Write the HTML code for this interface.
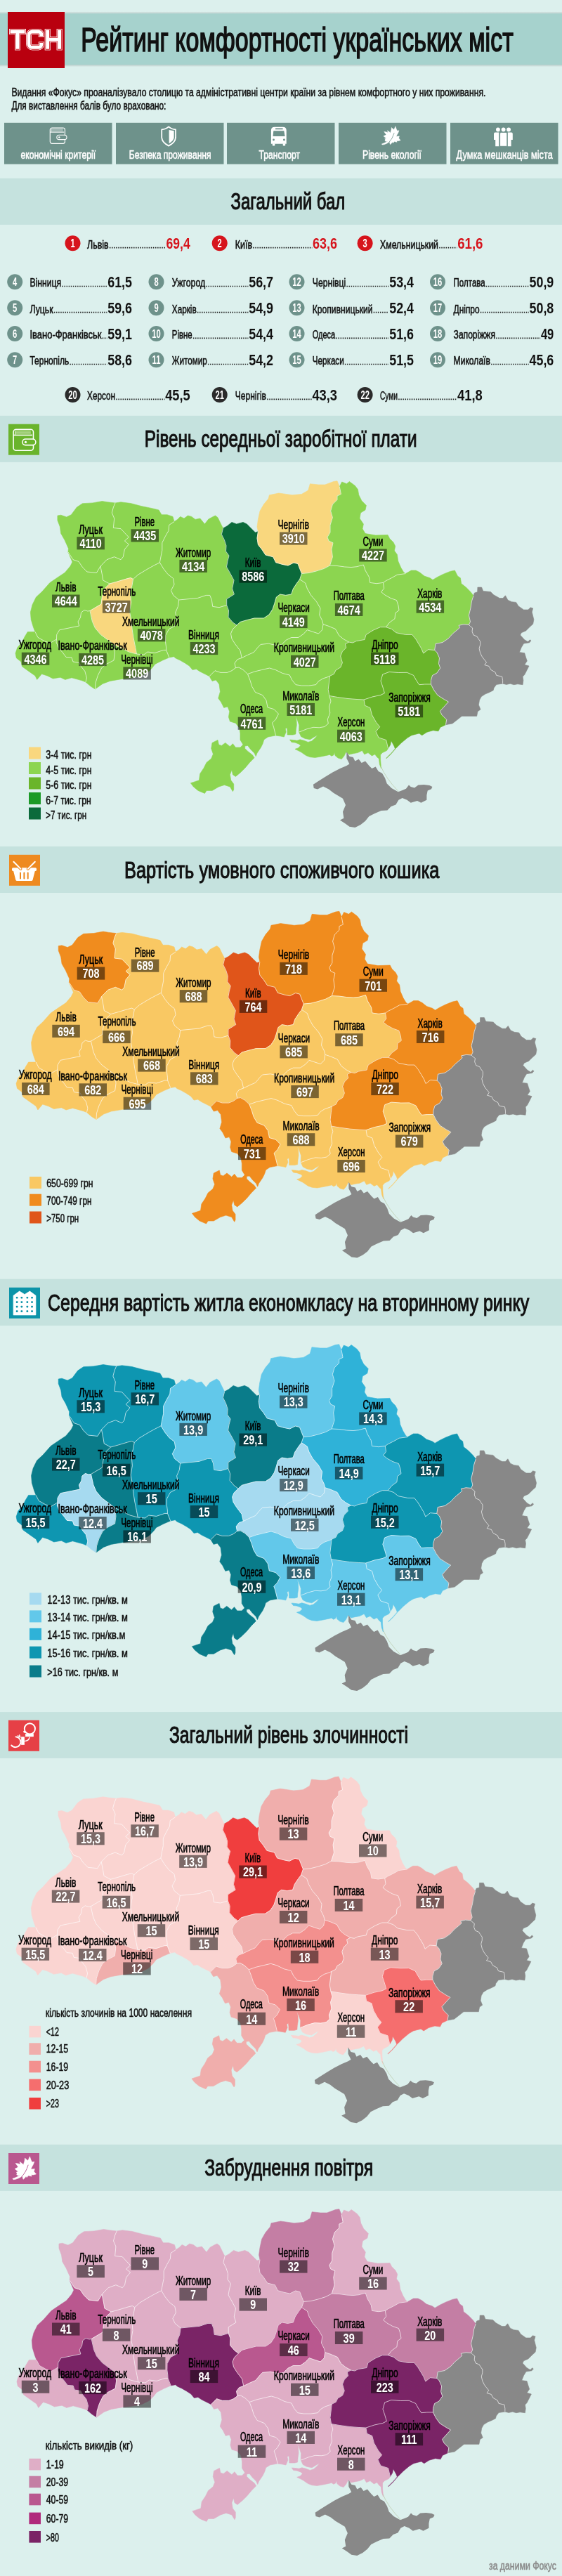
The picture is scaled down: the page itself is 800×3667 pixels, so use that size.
<!DOCTYPE html>
<html lang="uk"><head><meta charset="utf-8"><title>Рейтинг комфортності українських міст</title>
<style>
html,body{margin:0;padding:0;background:#dcf0ed}
svg{display:block}
text{font-family:"Liberation Sans",sans-serif}
</style></head><body>
<svg style="will-change:transform" width="800" height="3667" viewBox="0 0 800 3667">
<rect width="800" height="3667" fill="#dcf0ed"/>
<defs><linearGradient id="shu" x1="0" y1="0" x2="0" y2="1"><stop offset="0" stop-color="#000" stop-opacity="0"/><stop offset="1" stop-color="#000" stop-opacity="0.16"/></linearGradient><linearGradient id="shd" x1="0" y1="0" x2="0" y2="1"><stop offset="0" stop-color="#000" stop-opacity="0.16"/><stop offset="1" stop-color="#000" stop-opacity="0"/></linearGradient></defs>
<rect x="0" y="16.4" width="800" height="3" fill="url(#shu)"/><rect x="0" y="92" width="800" height="3.2" fill="url(#shd)"/>
<rect x="0" y="19.2" width="800" height="73" fill="#a6d2cd"/>
<rect x="11" y="17" width="81" height="80" fill="#b9000f"/>
<path d="M17,45.1 H33 M25,45.1 V67.4 M67.7,45.1 V67.4 M84.6,45.1 V67.4 M67.7,56.2 H84.6 M58.8,49.1 A4,4 0 0 0 54.8,45.1 H46 A5,5 0 0 0 41,50.1 V62.4 A5,5 0 0 0 46,67.4 H54.8 A4,4 0 0 0 58.8,63.4" fill="none" stroke="#fff" stroke-width="8" stroke-linecap="square" stroke-linejoin="round"/>
<path d="M17,45.1 H33 M25,45.1 V67.4 M67.7,45.1 V67.4 M84.6,45.1 V67.4 M67.7,56.2 H84.6 M58.8,49.1 A4,4 0 0 0 54.8,45.1 H46 A5,5 0 0 0 41,50.1 V62.4 A5,5 0 0 0 46,67.4 H54.8 A4,4 0 0 0 58.8,63.4" fill="none" stroke="#cc1a24" stroke-width="6.5" stroke-linecap="square" stroke-linejoin="round"/>
<path d="M17,45.1 H33 M25,45.1 V67.4 M67.7,45.1 V67.4 M84.6,45.1 V67.4 M67.7,56.2 H84.6 M58.8,49.1 A4,4 0 0 0 54.8,45.1 H46 A5,5 0 0 0 41,50.1 V62.4 A5,5 0 0 0 46,67.4 H54.8 A4,4 0 0 0 58.8,63.4" fill="none" stroke="#fff" stroke-width="4.9" stroke-linecap="square" stroke-linejoin="round"/>
<text x="115.2" y="72.6" font-size="47.5" fill="#111" stroke="#111" stroke-width="1.62" textLength="615.5" lengthAdjust="spacingAndGlyphs">Рейтинг комфортності українських міст</text>
<text x="16.4" y="137.3" font-size="16.4" fill="#111" stroke="#111" stroke-width="0.56" textLength="675.0" lengthAdjust="spacingAndGlyphs">Видання «Фокус» проаналізувало столицю та адміністративні центри країни за рівнем комфортного у них проживання.</text>
<text x="16.4" y="155.9" font-size="16.4" fill="#111" stroke="#111" stroke-width="0.56" textLength="220.0" lengthAdjust="spacingAndGlyphs">Для виставлення балів було враховано:</text>
<rect x="6" y="174.8" width="153.5" height="58.9" fill="#6e928b"/>
<text x="29.4" y="225.5" font-size="16.8" fill="#fff" stroke="#fff" stroke-width="0.57" textLength="106.8" lengthAdjust="spacingAndGlyphs">економічні критерії</text>
<rect x="165" y="174.8" width="153.5" height="58.9" fill="#6e928b"/>
<text x="183.8" y="225.5" font-size="16.8" fill="#fff" stroke="#fff" stroke-width="0.57" textLength="116.8" lengthAdjust="spacingAndGlyphs">Безпека проживання</text>
<rect x="323" y="174.8" width="153.5" height="58.9" fill="#6e928b"/>
<text x="368.5" y="225.5" font-size="16.8" fill="#fff" stroke="#fff" stroke-width="0.57" textLength="58.5" lengthAdjust="spacingAndGlyphs">Транспорт</text>
<rect x="482" y="174.8" width="153.5" height="58.9" fill="#6e928b"/>
<text x="516.0" y="225.5" font-size="16.8" fill="#fff" stroke="#fff" stroke-width="0.57" textLength="84.0" lengthAdjust="spacingAndGlyphs">Рівень екології</text>
<rect x="641" y="174.8" width="153.5" height="58.9" fill="#6e928b"/>
<text x="649.6" y="225.5" font-size="16.8" fill="#fff" stroke="#fff" stroke-width="0.57" textLength="137.1" lengthAdjust="spacingAndGlyphs">Думка мешканців міста</text>
<g transform="translate(70.7,181.4) scale(0.745)" fill="none" stroke="#fff" stroke-width="1.55" stroke-linejoin="round"><rect x="0.8" y="0.8" width="28.4" height="30" rx="3.8"/><path d="M0.8,9 H27.6"/><path d="M3.2,8.6 V3.2 M3.2,2.8 H25.5 M3.2,4.7 H25.5 M3.2,6.6 H25.5" stroke-width="0.7"/><rect x="13.6" y="14.6" width="19" height="8.6" rx="4.3" fill="#6e928b"/><circle cx="18.2" cy="18.9" r="1.6" fill="#fff" stroke="none"/></g>
<g transform="translate(229.2,179.4) scale(1)"><path d="M10.9,1 Q6.5,5 1,4.9 V16.5 Q1.6,23.5 10.9,28.2 Q20.2,23.5 20.8,16.5 V4.9 Q15.3,5 10.9,1 Z" fill="none" stroke="#fff" stroke-width="1.75" stroke-linejoin="round"/><path d="M11.4,5.6 L18.4,6.9 V16.6 Q17.8,21.3 11.4,24.8 Z" fill="#fff"/></g>
<g transform="translate(385.9,180.8) scale(1)"><path d="M0,23.9 V5 Q0,0 5,0 H16.8 Q21.8,0 21.8,5 V23.9 Z" fill="#fff"/><rect x="1.9" y="23.5" width="3.5" height="3.3" rx="0.8" fill="#fff"/><rect x="16.8" y="23.5" width="3.5" height="3.3" rx="0.8" fill="#fff"/><path d="M3.4,5.4 H18.4 L19.7,13.2 H2.6 Z" fill="#6e928b"/><rect x="6.1" y="1.8" width="10.7" height="1.7" rx="0.5" fill="#6e928b"/><circle cx="3.6" cy="18.2" r="1.45" fill="#6e928b"/><circle cx="18.5" cy="18.2" r="1.45" fill="#6e928b"/></g>
<g transform="translate(538.6,175.9) scale(0.8)"><polygon points="30.43,4.80 32.03,9.61 33.63,12.81 36.83,12.28 35.23,16.55 33.09,20.28 32.03,22.95 37.37,22.42 36.30,26.16 39.50,29.89 35.23,30.96 32.56,30.64 33.09,33.09 28.29,32.03 26.16,34.70 25.09,33.09 22.95,35.76 21.03,37.37 20.28,34.70 19.75,32.56 18.15,33.63 14.41,35.76 10.14,37.37 6.94,37.69 5.87,36.30 9.07,35.23 13.88,33.09 17.08,30.96 14.41,32.03 11.74,30.96 12.28,28.29 11.21,27.22 13.88,26.16 9.07,22.42 12.28,20.82 13.88,19.75 10.14,14.41 13.88,14.95 17.08,16.01 16.01,12.28 19.75,14.95 21.35,16.55 22.95,11.21 23.49,6.94 26.16,9.61 27.76,10.68" fill="#fff" stroke="#fff" stroke-width="0.5" stroke-linejoin="round"/><path d="M28.08,17.08 Q25.09,27.22 19.00,33.42" fill="none" stroke="#6e928b" stroke-width="0.95" stroke-linecap="round"/></g>
<g transform="translate(703,181.6) scale(1)" fill="#fff"><circle cx="5.9" cy="2.9" r="2.9"/><circle cx="13.6" cy="2.9" r="2.9"/><circle cx="21.1" cy="2.9" r="2.9"/><path d="M0,8.8 Q0,7 1.8,7 H7.2 V26.7 H2.2 V17.5 H0 Z"/><path d="M26.8,8.8 Q26.8,7 25,7 H19.8 V26.7 H24.6 V17.5 H26.8 Z"/><path d="M8.6,8.6 Q8.6,6.8 10.4,6.8 H17 Q18.8,6.8 18.8,8.6 V26.7 H8.6 Z" stroke="#6e928b" stroke-width="0.9"/></g>
<rect x="0" y="253.9" width="800" height="66" fill="#c5e2de"/>
<text x="328.5" y="298.4" font-size="33.3" fill="#111" stroke="#111" stroke-width="1.13" textLength="162.8" lengthAdjust="spacingAndGlyphs">Загальний бал</text>
<circle cx="103.5" cy="346.3" r="11" fill="#d6141c"/>
<text x="100.4" y="352.4" font-size="17" font-weight="bold" fill="#fff" textLength="6.2" lengthAdjust="spacingAndGlyphs">1</text>
<text x="124.1" y="353.5" font-size="17" fill="#111" stroke="#111" stroke-width="0.58" textLength="30.6" lengthAdjust="spacingAndGlyphs">Львів</text>
<line x1="155.9" y1="352.6" x2="235.8" y2="352.6" stroke="#1a1a1a" stroke-width="1.7" stroke-dasharray="1.5 1.6"/>
<text x="236.6" y="353.8" font-size="22.8" font-weight="bold" fill="#d6141c" textLength="34.1" lengthAdjust="spacingAndGlyphs">69,4</text>
<circle cx="312.7" cy="346.3" r="11" fill="#d6141c"/>
<text x="309.6" y="352.4" font-size="17" font-weight="bold" fill="#fff" textLength="6.2" lengthAdjust="spacingAndGlyphs">2</text>
<text x="334.8" y="353.5" font-size="17" fill="#111" stroke="#111" stroke-width="0.58" textLength="24.2" lengthAdjust="spacingAndGlyphs">Київ</text>
<line x1="360.2" y1="352.6" x2="444.3" y2="352.6" stroke="#1a1a1a" stroke-width="1.7" stroke-dasharray="1.5 1.6"/>
<text x="445.1" y="353.8" font-size="22.8" font-weight="bold" fill="#d6141c" textLength="34.9" lengthAdjust="spacingAndGlyphs">63,6</text>
<circle cx="519.6" cy="346.3" r="11" fill="#d6141c"/>
<text x="516.5" y="352.4" font-size="17" font-weight="bold" fill="#fff" textLength="6.2" lengthAdjust="spacingAndGlyphs">3</text>
<text x="541.0" y="353.5" font-size="17" fill="#111" stroke="#111" stroke-width="0.58" textLength="83.0" lengthAdjust="spacingAndGlyphs">Хмельницький</text>
<line x1="625.2" y1="352.6" x2="650.4" y2="352.6" stroke="#1a1a1a" stroke-width="1.7" stroke-dasharray="1.5 1.6"/>
<text x="651.2" y="353.8" font-size="22.8" font-weight="bold" fill="#d6141c" textLength="36.3" lengthAdjust="spacingAndGlyphs">61,6</text>
<circle cx="21.2" cy="401.2" r="11" fill="#6e928b"/>
<text x="18.1" y="407.3" font-size="17" font-weight="bold" fill="#fff" textLength="6.2" lengthAdjust="spacingAndGlyphs">4</text>
<text x="42.4" y="408.4" font-size="17" fill="#111" stroke="#111" stroke-width="0.58" textLength="44.8" lengthAdjust="spacingAndGlyphs">Вінниця</text>
<line x1="88.4" y1="407.5" x2="152.4" y2="407.5" stroke="#1a1a1a" stroke-width="1.7" stroke-dasharray="1.5 1.6"/>
<text x="153.2" y="408.7" font-size="22.8" font-weight="bold" fill="#111" textLength="34.8" lengthAdjust="spacingAndGlyphs">61,5</text>
<circle cx="21.2" cy="438.3" r="11" fill="#6e928b"/>
<text x="18.1" y="444.4" font-size="17" font-weight="bold" fill="#fff" textLength="6.2" lengthAdjust="spacingAndGlyphs">5</text>
<text x="42.4" y="445.5" font-size="17" fill="#111" stroke="#111" stroke-width="0.58" textLength="33.3" lengthAdjust="spacingAndGlyphs">Луцьк</text>
<line x1="76.9" y1="444.6" x2="152.4" y2="444.6" stroke="#1a1a1a" stroke-width="1.7" stroke-dasharray="1.5 1.6"/>
<text x="153.2" y="445.8" font-size="22.8" font-weight="bold" fill="#111" textLength="34.8" lengthAdjust="spacingAndGlyphs">59,6</text>
<circle cx="21.2" cy="475.0" r="11" fill="#6e928b"/>
<text x="18.1" y="481.1" font-size="17" font-weight="bold" fill="#fff" textLength="6.2" lengthAdjust="spacingAndGlyphs">6</text>
<text x="42.4" y="482.2" font-size="17" fill="#111" stroke="#111" stroke-width="0.58" textLength="102.1" lengthAdjust="spacingAndGlyphs">Івано-Франківськ</text>
<line x1="145.7" y1="481.3" x2="152.4" y2="481.3" stroke="#1a1a1a" stroke-width="1.7" stroke-dasharray="1.5 1.6"/>
<text x="153.2" y="482.5" font-size="22.8" font-weight="bold" fill="#111" textLength="34.8" lengthAdjust="spacingAndGlyphs">59,1</text>
<circle cx="21.2" cy="512.2" r="11" fill="#6e928b"/>
<text x="18.1" y="518.3" font-size="17" font-weight="bold" fill="#fff" textLength="6.2" lengthAdjust="spacingAndGlyphs">7</text>
<text x="42.4" y="519.4" font-size="17" fill="#111" stroke="#111" stroke-width="0.58" textLength="55.8" lengthAdjust="spacingAndGlyphs">Тернопіль</text>
<line x1="99.4" y1="518.5" x2="152.4" y2="518.5" stroke="#1a1a1a" stroke-width="1.7" stroke-dasharray="1.5 1.6"/>
<text x="153.2" y="519.7" font-size="22.8" font-weight="bold" fill="#111" textLength="34.8" lengthAdjust="spacingAndGlyphs">58,6</text>
<circle cx="222.5" cy="401.2" r="11" fill="#6e928b"/>
<text x="219.4" y="407.3" font-size="17" font-weight="bold" fill="#fff" textLength="6.2" lengthAdjust="spacingAndGlyphs">8</text>
<text x="244.8" y="408.4" font-size="17" fill="#111" stroke="#111" stroke-width="0.58" textLength="47.4" lengthAdjust="spacingAndGlyphs">Ужгород</text>
<line x1="293.4" y1="407.5" x2="353.4" y2="407.5" stroke="#1a1a1a" stroke-width="1.7" stroke-dasharray="1.5 1.6"/>
<text x="354.2" y="408.7" font-size="22.8" font-weight="bold" fill="#111" textLength="34.8" lengthAdjust="spacingAndGlyphs">56,7</text>
<circle cx="222.5" cy="438.3" r="11" fill="#6e928b"/>
<text x="219.4" y="444.4" font-size="17" font-weight="bold" fill="#fff" textLength="6.2" lengthAdjust="spacingAndGlyphs">9</text>
<text x="244.8" y="445.5" font-size="17" fill="#111" stroke="#111" stroke-width="0.58" textLength="34.9" lengthAdjust="spacingAndGlyphs">Харків</text>
<line x1="280.9" y1="444.6" x2="353.4" y2="444.6" stroke="#1a1a1a" stroke-width="1.7" stroke-dasharray="1.5 1.6"/>
<text x="354.2" y="445.8" font-size="22.8" font-weight="bold" fill="#111" textLength="34.8" lengthAdjust="spacingAndGlyphs">54,9</text>
<circle cx="222.5" cy="475.0" r="11" fill="#6e928b"/>
<text x="216.3" y="481.1" font-size="17" font-weight="bold" fill="#fff" textLength="12.5" lengthAdjust="spacingAndGlyphs">10</text>
<text x="244.8" y="482.2" font-size="17" fill="#111" stroke="#111" stroke-width="0.58" textLength="28.9" lengthAdjust="spacingAndGlyphs">Рівне</text>
<line x1="274.9" y1="481.3" x2="353.4" y2="481.3" stroke="#1a1a1a" stroke-width="1.7" stroke-dasharray="1.5 1.6"/>
<text x="354.2" y="482.5" font-size="22.8" font-weight="bold" fill="#111" textLength="34.8" lengthAdjust="spacingAndGlyphs">54,4</text>
<circle cx="222.5" cy="512.2" r="11" fill="#6e928b"/>
<text x="216.6" y="518.3" font-size="17" font-weight="bold" fill="#fff" textLength="11.9" lengthAdjust="spacingAndGlyphs">11</text>
<text x="244.8" y="519.4" font-size="17" fill="#111" stroke="#111" stroke-width="0.58" textLength="49.9" lengthAdjust="spacingAndGlyphs">Житомир</text>
<line x1="295.9" y1="518.5" x2="353.4" y2="518.5" stroke="#1a1a1a" stroke-width="1.7" stroke-dasharray="1.5 1.6"/>
<text x="354.2" y="519.7" font-size="22.8" font-weight="bold" fill="#111" textLength="34.8" lengthAdjust="spacingAndGlyphs">54,2</text>
<circle cx="422.5" cy="401.2" r="11" fill="#6e928b"/>
<text x="416.3" y="407.3" font-size="17" font-weight="bold" fill="#fff" textLength="12.5" lengthAdjust="spacingAndGlyphs">12</text>
<text x="444.8" y="408.4" font-size="17" fill="#111" stroke="#111" stroke-width="0.58" textLength="47.4" lengthAdjust="spacingAndGlyphs">Чернівці</text>
<line x1="493.4" y1="407.5" x2="553.4" y2="407.5" stroke="#1a1a1a" stroke-width="1.7" stroke-dasharray="1.5 1.6"/>
<text x="554.2" y="408.7" font-size="22.8" font-weight="bold" fill="#111" textLength="34.8" lengthAdjust="spacingAndGlyphs">53,4</text>
<circle cx="422.5" cy="438.3" r="11" fill="#6e928b"/>
<text x="416.3" y="444.4" font-size="17" font-weight="bold" fill="#fff" textLength="12.5" lengthAdjust="spacingAndGlyphs">13</text>
<text x="444.8" y="445.5" font-size="17" fill="#111" stroke="#111" stroke-width="0.58" textLength="85.7" lengthAdjust="spacingAndGlyphs">Кропивницький</text>
<line x1="531.7" y1="444.6" x2="553.4" y2="444.6" stroke="#1a1a1a" stroke-width="1.7" stroke-dasharray="1.5 1.6"/>
<text x="554.2" y="445.8" font-size="22.8" font-weight="bold" fill="#111" textLength="34.8" lengthAdjust="spacingAndGlyphs">52,4</text>
<circle cx="422.5" cy="475.0" r="11" fill="#6e928b"/>
<text x="416.3" y="481.1" font-size="17" font-weight="bold" fill="#fff" textLength="12.5" lengthAdjust="spacingAndGlyphs">14</text>
<text x="444.8" y="482.2" font-size="17" fill="#111" stroke="#111" stroke-width="0.58" textLength="32.4" lengthAdjust="spacingAndGlyphs">Одеса</text>
<line x1="478.4" y1="481.3" x2="553.4" y2="481.3" stroke="#1a1a1a" stroke-width="1.7" stroke-dasharray="1.5 1.6"/>
<text x="554.2" y="482.5" font-size="22.8" font-weight="bold" fill="#111" textLength="34.8" lengthAdjust="spacingAndGlyphs">51,6</text>
<circle cx="422.5" cy="512.2" r="11" fill="#6e928b"/>
<text x="416.3" y="518.3" font-size="17" font-weight="bold" fill="#fff" textLength="12.5" lengthAdjust="spacingAndGlyphs">15</text>
<text x="444.8" y="519.4" font-size="17" fill="#111" stroke="#111" stroke-width="0.58" textLength="44.9" lengthAdjust="spacingAndGlyphs">Черкаси</text>
<line x1="490.9" y1="518.5" x2="553.4" y2="518.5" stroke="#1a1a1a" stroke-width="1.7" stroke-dasharray="1.5 1.6"/>
<text x="554.2" y="519.7" font-size="22.8" font-weight="bold" fill="#111" textLength="34.8" lengthAdjust="spacingAndGlyphs">51,5</text>
<circle cx="623.0" cy="401.2" r="11" fill="#6e928b"/>
<text x="616.8" y="407.3" font-size="17" font-weight="bold" fill="#fff" textLength="12.5" lengthAdjust="spacingAndGlyphs">16</text>
<text x="645.6" y="408.4" font-size="17" fill="#111" stroke="#111" stroke-width="0.58" textLength="45.1" lengthAdjust="spacingAndGlyphs">Полтава</text>
<line x1="691.9" y1="407.5" x2="752.7" y2="407.5" stroke="#1a1a1a" stroke-width="1.7" stroke-dasharray="1.5 1.6"/>
<text x="753.5" y="408.7" font-size="22.8" font-weight="bold" fill="#111" textLength="34.8" lengthAdjust="spacingAndGlyphs">50,9</text>
<circle cx="623.0" cy="438.3" r="11" fill="#6e928b"/>
<text x="616.8" y="444.4" font-size="17" font-weight="bold" fill="#fff" textLength="12.5" lengthAdjust="spacingAndGlyphs">17</text>
<text x="645.6" y="445.5" font-size="17" fill="#111" stroke="#111" stroke-width="0.58" textLength="37.0" lengthAdjust="spacingAndGlyphs">Дніпро</text>
<line x1="683.8" y1="444.6" x2="752.7" y2="444.6" stroke="#1a1a1a" stroke-width="1.7" stroke-dasharray="1.5 1.6"/>
<text x="753.5" y="445.8" font-size="22.8" font-weight="bold" fill="#111" textLength="34.8" lengthAdjust="spacingAndGlyphs">50,8</text>
<circle cx="623.0" cy="475.0" r="11" fill="#6e928b"/>
<text x="616.8" y="481.1" font-size="17" font-weight="bold" fill="#fff" textLength="12.5" lengthAdjust="spacingAndGlyphs">18</text>
<text x="645.6" y="482.2" font-size="17" fill="#111" stroke="#111" stroke-width="0.58" textLength="59.4" lengthAdjust="spacingAndGlyphs">Запоріжжя</text>
<line x1="706.2" y1="481.3" x2="769.1" y2="481.3" stroke="#1a1a1a" stroke-width="1.7" stroke-dasharray="1.5 1.6"/>
<text x="769.9" y="482.5" font-size="22.8" font-weight="bold" fill="#111" textLength="18.4" lengthAdjust="spacingAndGlyphs">49</text>
<circle cx="623.0" cy="512.2" r="11" fill="#6e928b"/>
<text x="616.8" y="518.3" font-size="17" font-weight="bold" fill="#fff" textLength="12.5" lengthAdjust="spacingAndGlyphs">19</text>
<text x="645.6" y="519.4" font-size="17" fill="#111" stroke="#111" stroke-width="0.58" textLength="52.3" lengthAdjust="spacingAndGlyphs">Миколаїв</text>
<line x1="699.1" y1="518.5" x2="752.7" y2="518.5" stroke="#1a1a1a" stroke-width="1.7" stroke-dasharray="1.5 1.6"/>
<text x="753.5" y="519.7" font-size="22.8" font-weight="bold" fill="#111" textLength="34.8" lengthAdjust="spacingAndGlyphs">45,6</text>
<circle cx="103.5" cy="562.0" r="11" fill="#2b2b2b"/>
<text x="97.3" y="568.1" font-size="17" font-weight="bold" fill="#fff" textLength="12.5" lengthAdjust="spacingAndGlyphs">20</text>
<text x="124.1" y="569.2" font-size="17" fill="#111" stroke="#111" stroke-width="0.58" textLength="40.0" lengthAdjust="spacingAndGlyphs">Херсон</text>
<line x1="165.3" y1="568.3" x2="234.4" y2="568.3" stroke="#1a1a1a" stroke-width="1.7" stroke-dasharray="1.5 1.6"/>
<text x="235.2" y="569.5" font-size="22.8" font-weight="bold" fill="#111" textLength="35.5" lengthAdjust="spacingAndGlyphs">45,5</text>
<circle cx="312.7" cy="562.0" r="11" fill="#2b2b2b"/>
<text x="306.5" y="568.1" font-size="17" font-weight="bold" fill="#fff" textLength="12.5" lengthAdjust="spacingAndGlyphs">21</text>
<text x="334.8" y="569.2" font-size="17" fill="#111" stroke="#111" stroke-width="0.58" textLength="44.2" lengthAdjust="spacingAndGlyphs">Чернігів</text>
<line x1="380.2" y1="568.3" x2="443.6" y2="568.3" stroke="#1a1a1a" stroke-width="1.7" stroke-dasharray="1.5 1.6"/>
<text x="444.4" y="569.5" font-size="22.8" font-weight="bold" fill="#111" textLength="35.6" lengthAdjust="spacingAndGlyphs">43,3</text>
<circle cx="519.6" cy="562.0" r="11" fill="#2b2b2b"/>
<text x="513.4" y="568.1" font-size="17" font-weight="bold" fill="#fff" textLength="12.5" lengthAdjust="spacingAndGlyphs">22</text>
<text x="541.0" y="569.2" font-size="17" fill="#111" stroke="#111" stroke-width="0.58" textLength="25.0" lengthAdjust="spacingAndGlyphs">Суми</text>
<line x1="567.2" y1="568.3" x2="650.2" y2="568.3" stroke="#1a1a1a" stroke-width="1.7" stroke-dasharray="1.5 1.6"/>
<text x="651.0" y="569.5" font-size="22.8" font-weight="bold" fill="#111" textLength="35.8" lengthAdjust="spacingAndGlyphs">41,8</text>
<defs>
<path id="r-zak" d="M50,899.4 54,907.4 63.4,912.7 71.4,915.4 80.5,910 80,914 83.4,922 90,930 94,935.4 102,936 104,942 112.7,943.4 115.4,948.7 120.8,955.4 123.4,964.8 122,971 116.7,968.8 102,964.8 92.7,967.4 86,964.2 75.4,966 67.4,962 59.4,959.4 52.7,967.4 50,962 40.7,955.4 31.4,948.7 30,942 23.3,936.7 22,930 24.7,922 31.4,914 35.4,906 39.4,899.4Z"/>
<path id="r-lviv" d="M97,786 104,796.7 112,799.4 117.4,807.4 124,814 137.4,815.4 143,806 145.4,818 146.7,826 156,831 149.4,837.4 145.4,849.4 144,860 128,869.5 124.8,870 120,868.5 115.5,872 114.5,879 111,885 112.7,891 98,894 84.7,896.7 80.7,903.4 80.5,910 71.4,915.4 63.4,912.7 54,907.4 50,899.4 47.4,892.7 44.2,882 43.4,871.4 46,861 51.4,850 60,842 71,829.5 82,822 92.5,815 100,806 103,800 100,793Z"/>
<path id="r-volyn" d="M97,786 97.4,780.7 92,768.7 86.7,759.4 85.4,750 81.9,740.7 81.9,734 86.7,733.2 94.7,736 101.4,732.7 109.4,722 117.4,716.7 132,715.9 145.4,713.5 153.4,714.8 164,716 161.4,722 159.3,730 162.7,738 161.4,751.4 172,752.7 178.8,760 183.3,764.7 177.4,770 183.3,774.9 177.4,782 175.3,792.7 172,796.7 162.7,792.7 152,796.7 143,806 137.4,815.4 124,814 117.4,807.4 112,799.4 104,796.7Z"/>
<path id="r-rivne" d="M164,716 172,714.8 186,716.5 202,720.7 215.4,723.4 226,726 230,732.7 238,732.7 246,735.4 248,742.5 240.7,747.4 240,755.4 235.4,763.4 230.8,772.7 230.8,783.4 229.2,791.4 227.4,800.8 219.4,804.8 210,810 196.7,818 189.5,824.5 186,822.5 180,824 166.7,828 156,831 146.7,826 145.4,818 143,806 152,796.7 162.7,792.7 172,796.7 175.3,792.7 177.4,782 183.3,774.9 177.4,770 183.3,764.7 178.8,760 172,752.7 161.4,751.4 162.7,738 159.3,730 161.4,722Z"/>
<path id="r-tern" d="M156,831 166.7,828 180,824 186,822.5 189.5,824.5 188,833.4 185.4,842.7 186.7,857.4 184.5,870.7 187,884 188,895 190,908 192.7,921.4 194.5,931 183.4,928 172.7,922.7 162,917.4 154,911.4 143.4,903.4 135.4,894 131.4,884.7 128,869.5 144,860 145.4,849.4 149.4,837.4Z"/>
<path id="r-if" d="M80.5,910 80.7,903.4 84.7,896.7 98,894 112.7,891 111,885 114.5,879 115.5,872 120,868.5 124.8,870 128,869.5 131.4,884.7 135.4,894 143.4,903.4 154,911.4 162,917.4 163.4,929.4 162,940 151.4,945.4 144.7,950.7 139.4,961.4 136,972 135.4,981 128.8,976.8 122,971 123.4,964.8 120.8,955.4 115.4,948.7 112.7,943.4 104,942 102,936 94,935.4 90,930 83.4,922 80,914Z"/>
<path id="r-chrv" d="M162,917.4 172.7,922.7 183.4,928 194.5,931 204.7,932 210,928 220.7,929.4 232.7,925.4 236.7,925.4 240.8,936 231.4,940 220.7,945.4 216.7,950.7 210,957.4 199.4,962.7 183.4,965.4 172.7,966.7 156.7,969.4 146,973.4 135.4,981 136,972 139.4,961.4 144.7,950.7 151.4,945.4 162,940 163.4,929.4Z"/>
<path id="r-khm" d="M189.5,824.5 196.7,818 210,810 219.4,804.8 227.4,800.8 233,810 239,817.5 246.5,823.4 248,832 243.5,840.5 246.7,847.4 254.7,854 253.4,863.4 249.7,872 251.5,881 249,891 240.5,895.5 235.7,904.5 235.5,913.4 236.5,921 236.7,925.4 232.7,925.4 220.7,929.4 210,928 204.7,932 194.5,931 192.7,921.4 190,908 188,895 187,884 184.5,870.7 186.7,857.4 185.4,842.7 188,833.4Z"/>
<path id="r-zhy" d="M248,742.5 252.7,739.4 256.7,735.4 262,738 267.4,734 272.7,735.4 278,739.4 284.8,738 291.4,746 296.8,739 303.4,735.4 306.5,734 310,736.7 314,745 317.5,752 315.4,760.7 319.4,768.7 322,776.8 321.5,784.8 326,791 324,798.5 322.5,807 327,815 333,826 330.7,838 333.4,846 322.7,852.7 322.7,861.5 312,864.7 302.7,863.4 301.4,854 298.7,847.4 293.4,847.4 281.4,851.4 268,852.7 254.7,854 246.7,847.4 243.5,840.5 248,832 246.5,823.4 239,817.5 233,810 227.4,800.8 229.2,791.4 230.8,783.4 230.8,772.7 235.4,763.4 240,755.4 240.7,747.4Z"/>
<path id="r-vin" d="M254.7,854 268,852.7 281.4,851.4 293.4,847.4 298.7,847.4 301.4,854 302.7,863.4 312,864.7 322.7,861.5 325.5,869 325,878.5 331.4,886 337,890 331,896 328.5,902 330,909.4 334.5,916.5 342,926.5 344.2,936.5 338,938.7 334,944 335.4,950.7 330,954.7 323.4,957.4 314,957.4 306,954.7 298,962.7 292.7,960 284.7,956 279.4,952.5 274,953.5 269.5,948 263.4,944 256.5,940 250,937 247.4,934.7 240.8,936 236.7,925.4 236.5,921 235.5,913.4 235.7,904.5 240.5,895.5 249,891 251.5,881 249.7,872 253.4,863.4Z"/>
<path id="r-kyiv" d="M317.5,752 323.4,748.7 330,743.4 336.7,746 346,743.4 351.4,746 358,752.7 363.4,758 367.4,756.7 366,766 367.4,775.4 372.7,782 378,790 388.7,792.7 392.7,800.7 402,803.4 410,805 418,801 424,802.5 426.5,809 429.5,816.5 426.7,824.7 422.7,830 417.4,838 414.7,846 406.7,847.4 398.7,846 393.4,850 390.7,859.4 388,867.4 383,875 375.4,880 362,880 351.4,882.7 342,885.4 337,890 331.4,886 325,878.5 325.5,869 322.7,861.5 322.7,852.7 333.4,846 330.7,838 333,826 327,815 322.5,807 324,798.5 326,791 321.5,784.8 322,776.8 319.4,768.7 315.4,760.7Z"/>
<path id="r-chrh" d="M367.4,756.7 366,750 367.4,739.4 370,727.4 375.4,718 382,710 383.4,704.7 396.8,702 407.4,703.4 416,704.7 429.4,703.4 438.7,698 441.4,688.7 453.4,690 462.7,690 474.7,685.5 480,684.7 483.3,692.7 485.4,703.4 480,706 480,711.4 473.4,718 470.7,727.4 473.4,736.7 470,747.4 470,758 466,764.7 468,770 474,772.7 472,782 473.4,792.8 469.5,805 461,809.5 450,813 440,815.5 429.5,816.5 426.5,809 424,802.5 418,801 410,805 402,803.4 392.7,800.7 388.7,792.7 378,790 372.7,782 367.4,775.4 366,766Z"/>
<path id="r-sumy" d="M483.3,692.7 486.7,686 493.4,688.7 497.4,685.5 505.4,691.4 509.4,696.7 510.8,704.7 514.8,712.7 521.4,719.4 520,726 513.4,730 512,738 517.4,746 516,752.7 520,759.5 534.7,762 552,761.4 554.7,766.7 560,772 562.7,777.4 561.4,784 565.4,789.4 566.7,798.7 570.7,808 574.7,814.7 577.4,816.6 565.4,818.2 557.4,822.7 549.4,826.7 545.4,829.4 536,830.7 526.7,829.4 525.4,821.4 520,812 517.4,804 508,806.7 500,807.5 490.7,807 480,805.5 469.5,805 473.4,792.8 472,782 474,772.7 468,770 466,764.7 470,758 470,747.4 473.4,736.7 470.7,727.4 473.4,718 480,711.4 480,706 485.4,703.4Z"/>
<path id="r-polt" d="M429.5,816.5 440,815.5 450,813 461,809.5 469.5,805 480,805.5 490.7,807 500,807.5 508,806.7 517.4,804 520,812 525.4,821.4 526.7,829.4 536,830.7 545.4,829.4 546.7,837.4 542.7,842.7 548,847 556,851.5 564.5,854.5 567,862 568,868.7 562.7,872.7 562,880.7 554.7,886 549.4,892.7 541.4,892.7 532,896.7 525.4,900.7 521,903.5 519,910.5 507.4,912.5 502,915 496.7,914 489.4,910 482.7,904.7 477.4,895.4 468,891.4 460,888.7 458.7,883.4 454.7,875.4 456,866 450.7,856.7 442.7,847.4 437.4,838 434.7,830 426.7,824.7Z"/>
<path id="r-chrk" d="M426.7,824.7 434.7,830 437.4,838 442.7,847.4 450.7,856.7 456,866 454.7,875.4 458.7,883.4 460,888.7 458.7,896.7 453.4,902 445.4,899.4 437.4,896.7 432,902.5 424.7,907.5 414.7,907.5 407.3,911.2 401,917.4 393.6,918.7 382.4,916.2 371,917.4 367.4,921.2 361.2,928.6 352.5,932.4 344.2,936.5 342,926.5 334.5,916.5 330,909.4 328.5,902 331,896 337,890 342,885.4 351.4,882.7 362,880 375.4,880 383,875 388,867.4 390.7,859.4 393.4,850 398.7,846 406.7,847.4 414.7,846 417.4,838 422.7,830Z"/>
<path id="r-kir" d="M344.2,936.5 352.5,932.4 361.2,928.6 367.4,921.2 371,917.4 382.4,916.2 393.6,918.7 401,917.4 407.3,911.2 414.7,907.5 424.7,907.5 432,902.5 437.4,896.7 445.4,899.4 453.4,902 458.7,896.7 460,888.7 468,891.4 477.4,895.4 482.7,904.7 489.4,910 496.7,914 491.4,916.7 492.7,922 487.4,927.4 484.7,934 487.4,943.4 484.7,950 478,954 475.4,959.4 469.5,962.3 467,963.5 459.6,966 453.4,969.8 449.6,974.7 439.7,976 429.7,976 421,974.7 416,968.5 412.2,961 402.3,958.5 392.3,953.6 383.6,951 372.4,953.6 362.4,956 352.5,959.5 346.2,953.6 340,950 335.4,950.7 334,944 338,938.7Z"/>
<path id="r-ode" d="M298,962.7 306,954.7 314,957.4 323.4,957.4 330,954.7 335.4,950.7 340,950 346.2,953.6 352.5,959.5 356,968.5 358.7,977.3 363.5,985.5 373.6,989.5 379,997 381,1007 390,1009.6 396.5,1016.2 392.5,1024 387.5,1029 389.6,1035.2 392.5,1047 381.7,1049 375.9,1052.8 374,1058.7 371.4,1064 366,1072 364.2,1076.6 362,1072 356.7,1066.7 352.7,1061.4 348.7,1062 348.7,1065.4 352.7,1069.4 359.4,1074.7 362,1078.7 355.4,1085.4 348.7,1093.4 342,1100 335.4,1105.4 331.4,1102.7 330,1096 327.4,1102.7 328.7,1110.7 332.7,1116 332.7,1124 331.4,1126.7 327.4,1120 319.4,1117.4 311.4,1120 302,1125.4 294,1125.4 291.4,1129.4 282,1125.4 275.4,1120 271.4,1114.7 275.4,1113.4 283.4,1110.7 284.7,1101.4 290,1093.4 294,1085.4 300.7,1080 303.4,1073.4 300.7,1065.4 302,1057.4 310,1053.4 311.4,1060 315.4,1061.4 320.7,1057.4 327.4,1062.7 331.4,1058.7 335.4,1064 342,1064 346,1060 342,1053.4 342,1044 340.7,1036 335.4,1029.4 327.4,1027 325.4,1020.7 326.7,1012.7 324,1006 318.7,1007.4 314.7,999.4 310.7,994 313.4,984.7 312,974 307.4,968 302,969.4Z"/>
<path id="r-myk" d="M352.5,959.5 362.4,956 372.4,953.6 383.6,951 392.3,953.6 402.3,958.5 412.2,961 416,968.5 421,974.7 429.7,976 439.7,976 449.6,974.7 453.4,969.8 459.6,966 467,963.5 469.5,962.3 468.5,971 467.2,981.5 468.8,990.5 471,998 468.5,1006 469.8,1015 466.3,1024 467.3,1030 462,1034.5 454.4,1035.8 446,1035.3 436,1038 428.7,1041 425.5,1042 425.8,1032.3 423.5,1025.4 420.5,1018.6 422,1025.4 422.3,1032.3 421.3,1039 420.9,1045 417,1046 409.1,1046 409,1040 408.5,1036 406.2,1037.2 407.2,1042 404.3,1049 399.4,1048 392.5,1047 389.6,1035.2 387.5,1029 392.5,1024 396.5,1016.2 390,1009.6 381,1007 379,997 373.6,989.5 363.5,985.5 358.7,977.3 356,968.5Z"/>
<path id="r-khe" d="M468.8,990.5 480.5,992.5 495,994.5 508,995.5 518,996 519.4,1004.3 526.8,1007.5 529.5,1017.7 535.5,1028.3 540.7,1034.7 535,1041.5 539,1050 549.7,1053.5 552.5,1065.6 550.6,1068.4 544.4,1071.5 541.6,1074.5 541.6,1082 542.6,1094 540.4,1088 539.4,1080 536.9,1078 533.7,1073.8 529.4,1075.9 524,1071.6 518.7,1073.8 515.5,1068.4 509.1,1071.6 502.7,1072.7 497,1074 492.6,1070.6 489.8,1076.3 486.2,1080.6 481.2,1079.1 477,1075.6 476.2,1071.3 474.8,1074.9 472,1076.3 469.1,1074.2 467,1074.9 457,1077 448.5,1078.4 441.4,1077.7 435.7,1075.6 428.5,1070.6 420,1066.3 424.3,1064.9 427.8,1061.4 425.7,1059.2 420,1057.1 415,1056.5 412.5,1053 420,1053.7 422.8,1054.2 427.1,1052.8 432.8,1054.2 438.5,1056.4 443.5,1055 448.5,1050.7 452,1046.4 447,1049.3 441.4,1052.8 434.2,1051.4 428.5,1048.5 425.5,1042 428.7,1041 436,1038 446,1035.3 454.4,1035.8 462,1034.5 467.3,1030 466.3,1024 469.8,1015 468.5,1006 471,998Z"/>
<path id="r-khar" d="M577.4,816.6 585.4,812 592,812 597.4,814.7 604,820 612,822.7 616,825.4 622.7,821.4 630.8,817.4 640.7,813.4 647.4,812 651.4,820 655.4,822.7 656.7,830.7 663.4,836 670,842.7 674,848 671.4,856 670,865.4 667.4,876 669.5,885 667.4,889.4 660,888.8 653,890.3 654.5,893.4 650.8,896.7 644.5,902 638,909 630,914.5 620,916.5 618.7,925.5 609.4,924.7 602.7,930 600,923.4 596,916.7 592,910 586.7,903.4 577.4,903.4 564,900.7 557.4,895.4 549.4,892.7 554.7,886 562,880.7 562.7,872.7 568,868.7 567,862 564.5,854.5 556,851.5 548,847 542.7,842.7 546.7,837.4 545.4,829.4 549.4,826.7 557.4,822.7 565.4,818.2Z"/>
<path id="r-dnp" d="M549.4,892.7 557.4,895.4 564,900.7 577.4,903.4 586.7,903.4 592,910 596,916.7 600,923.4 602.7,930 609.4,924.7 618.7,925.5 622.2,929 625.5,936.7 624.5,944.7 626.7,951 622,958 615.5,961.5 613.4,968.7 613.4,974 604.7,974 596.7,974.7 592.3,968 588.7,961.4 579.4,957.3 567.4,957.5 554,956.5 544.7,960 542,969.4 544.7,977.4 547.4,986.7 542,989.4 530,992 518,996 508,995.5 495,994.5 480.5,992.5 468.8,990.5 467.2,981.5 468.5,971 469.5,962.3 475.4,959.4 478,954 484.7,950 487.4,943.4 484.7,934 487.4,927.4 492.7,922 491.4,916.7 496.7,914 502,915 507.4,912.5 519,910.5 521,903.5 525.4,900.7 532,896.7 541.4,892.7Z"/>
<path id="r-zap" d="M613.4,974 617.7,982.4 623,989.7 632.4,995.7 638.4,999 633,1005 626.4,1012.4 629,1017.7 635.7,1024.4 634.5,1031.7 626.7,1035.4 624,1040.8 616.5,1039.7 607.7,1042.3 600.7,1046.7 596.7,1044 586,1046.7 580,1050.3 571,1057.8 564.6,1064.2 562.5,1066 561,1062 558.5,1057.5 556.7,1054.5 555.8,1060 552.5,1065.6 549.7,1053.5 539,1050 535,1041.5 540.7,1034.7 535.5,1028.3 529.5,1017.7 526.8,1007.5 519.4,1004.3 518,996 530,992 542,989.4 547.4,986.7 544.7,977.4 542,969.4 544.7,960 554,956.5 567.4,957.5 579.4,957.3 588.7,961.4 592.3,968 596.7,974.7 604.7,974Z"/>
<path id="r-don" d="M667.4,889.4 669.5,891.5 672.7,894 672,899 674,904 679,906 681,909.4 683.6,913 683.6,917.8 682.1,923.1 683.6,929.4 686.2,934.7 688.9,938.3 692.5,942.7 689.8,946.6 696,948.4 698.7,953.4 704.9,956.9 706.7,961.4 714.7,963.2 715.6,968.5 715.6,973.2 706.7,974.4 703.1,979.2 702.2,982.7 696.9,985.4 690.7,988.1 685.3,991.6 682.5,996.5 681.4,1003.4 684,1010 680,1012.7 678.7,1019.4 668,1019.4 657.4,1019.4 650.7,1024.8 644,1030 634.5,1031.7 635.7,1024.4 629,1017.7 626.4,1012.4 633,1005 638.4,999 632.4,995.7 623,989.7 617.7,982.4 613.4,974 613.4,968.7 615.5,961.5 622,958 626.7,951 624.5,944.7 625.5,936.7 622.2,929 618.7,925.5 620,916.5 630,914.5 638,909 644.5,902 650.8,896.7 654.5,893.4 653,890.3 660,888.8Z"/>
<path id="r-luh" d="M674,848 675.4,844 679.6,842.7 679.9,836 685.6,836 687.8,841.4 698.4,842.4 702.7,846.7 711.2,851.6 715.9,851.6 719.4,847.8 723,854.2 728.3,856.7 734.7,857.4 737.9,862.7 745.4,868 751.8,868 755,864.8 758.7,865.9 757.2,871.2 759.9,881.9 758.7,888.3 754,892.6 748.6,897.9 742.2,900.7 740.6,904 746.7,910.7 751.5,913.6 754.4,910.7 756,912.1 753.6,914.8 745.6,916.1 742.3,921.4 739.4,928.6 746.7,929.6 748.5,935.6 750.3,940.9 746.7,946.3 753,948 750.3,953.4 746.7,960.5 744.1,963.2 744.9,968.5 744.1,974.7 736.9,973.8 731.6,974.7 726.3,973.3 720.9,974.4 715.6,973.2 715.6,968.5 714.7,963.2 706.7,961.4 704.9,956.9 698.7,953.4 696,948.4 689.8,946.6 692.5,942.7 688.9,938.3 686.2,934.7 683.6,929.4 682.1,923.1 683.6,917.8 683.6,913 681,909.4 679,906 674,904 672,899 672.7,894 669.5,891.5 667.4,889.4 669.5,885 667.4,876 670,865.4 671.4,856Z"/>
<path id="r-crim" d="M493.4,1070 497.4,1076.7 502.7,1078 505.4,1083.4 510.7,1080.7 514.7,1086 520,1083.4 525.4,1090 529.4,1094 534.7,1091.4 538.7,1098 544,1100.7 548,1107.4 550.8,1115.4 557.4,1122 566.8,1127.2 573.4,1124.7 578,1122.7 582,1117.4 584.7,1120 590,1121.4 595.4,1117.4 603.4,1116.9 611.4,1118 615.4,1120 614,1123.3 608.7,1125.4 607.4,1132 607.4,1138.7 599.4,1142.7 594,1140 584.7,1142.7 579.4,1138.7 572.7,1136 567.4,1138.7 563.4,1145.4 556.7,1148 551.4,1153.4 542.7,1154 533.4,1158 525.4,1162 520,1168.8 513.4,1174 505.4,1178 497.4,1176.8 492,1172.8 484,1167.4 489.4,1164.8 488,1155.4 492,1146 488,1136.7 481.4,1132.7 474.7,1128.7 468,1123.4 460,1119.4 452,1123.4 446.7,1122 445.9,1116.7 452,1112.7 462.7,1106 473.4,1099.4 484,1094 493.4,1090 497.4,1087.4 493.4,1079.4Z"/>
<path id="brd" d="M97,786 104,796.7 112,799.4 117.4,807.4 124,814 137.4,815.4 143,806 M164,716 161.4,722 159.3,730 162.7,738 161.4,751.4 172,752.7 178.8,760 183.3,764.7 177.4,770 183.3,774.9 177.4,782 175.3,792.7 172,796.7 162.7,792.7 152,796.7 143,806 M143,806 145.4,818 146.7,826 156,831 M156,831 166.7,828 180,824 186,822.5 189.5,824.5 M156,831 149.4,837.4 145.4,849.4 144,860 128,869.5 M128,869.5 124.8,870 120,868.5 115.5,872 114.5,879 111,885 112.7,891 98,894 84.7,896.7 80.7,903.4 80.5,910 M50,899.4 54,907.4 63.4,912.7 71.4,915.4 80.5,910 M80.5,910 80,914 83.4,922 90,930 94,935.4 102,936 104,942 112.7,943.4 115.4,948.7 120.8,955.4 123.4,964.8 122,971 M128,869.5 131.4,884.7 135.4,894 143.4,903.4 154,911.4 162,917.4 M162,917.4 163.4,929.4 162,940 151.4,945.4 144.7,950.7 139.4,961.4 136,972 135.4,981 M162,917.4 172.7,922.7 183.4,928 194.5,931 M189.5,824.5 188,833.4 185.4,842.7 186.7,857.4 184.5,870.7 187,884 188,895 190,908 192.7,921.4 194.5,931 M194.5,931 204.7,932 210,928 220.7,929.4 232.7,925.4 236.7,925.4 M236.7,925.4 240.8,936 M189.5,824.5 196.7,818 210,810 219.4,804.8 227.4,800.8 M248,742.5 240.7,747.4 240,755.4 235.4,763.4 230.8,772.7 230.8,783.4 229.2,791.4 227.4,800.8 M227.4,800.8 233,810 239,817.5 246.5,823.4 248,832 243.5,840.5 246.7,847.4 254.7,854 M254.7,854 253.4,863.4 249.7,872 251.5,881 249,891 240.5,895.5 235.7,904.5 235.5,913.4 236.5,921 236.7,925.4 M254.7,854 268,852.7 281.4,851.4 293.4,847.4 298.7,847.4 301.4,854 302.7,863.4 312,864.7 322.7,861.5 M317.5,752 315.4,760.7 319.4,768.7 322,776.8 321.5,784.8 326,791 324,798.5 322.5,807 327,815 333,826 330.7,838 333.4,846 322.7,852.7 322.7,861.5 M322.7,861.5 325.5,869 325,878.5 331.4,886 337,890 M337,890 331,896 328.5,902 330,909.4 334.5,916.5 342,926.5 344.2,936.5 M344.2,936.5 338,938.7 334,944 335.4,950.7 M335.4,950.7 330,954.7 323.4,957.4 314,957.4 306,954.7 298,962.7 M367.4,756.7 366,766 367.4,775.4 372.7,782 378,790 388.7,792.7 392.7,800.7 402,803.4 410,805 418,801 424,802.5 426.5,809 429.5,816.5 M429.5,816.5 426.7,824.7 M426.7,824.7 422.7,830 417.4,838 414.7,846 406.7,847.4 398.7,846 393.4,850 390.7,859.4 388,867.4 383,875 375.4,880 362,880 351.4,882.7 342,885.4 337,890 M483.3,692.7 485.4,703.4 480,706 480,711.4 473.4,718 470.7,727.4 473.4,736.7 470,747.4 470,758 466,764.7 468,770 474,772.7 472,782 473.4,792.8 469.5,805 M469.5,805 461,809.5 450,813 440,815.5 429.5,816.5 M577.4,816.6 565.4,818.2 557.4,822.7 549.4,826.7 545.4,829.4 M545.4,829.4 536,830.7 526.7,829.4 525.4,821.4 520,812 517.4,804 508,806.7 500,807.5 490.7,807 480,805.5 469.5,805 M545.4,829.4 546.7,837.4 542.7,842.7 548,847 556,851.5 564.5,854.5 567,862 568,868.7 562.7,872.7 562,880.7 554.7,886 549.4,892.7 M549.4,892.7 541.4,892.7 532,896.7 525.4,900.7 521,903.5 519,910.5 507.4,912.5 502,915 496.7,914 M496.7,914 489.4,910 482.7,904.7 477.4,895.4 468,891.4 460,888.7 M460,888.7 458.7,883.4 454.7,875.4 456,866 450.7,856.7 442.7,847.4 437.4,838 434.7,830 426.7,824.7 M460,888.7 458.7,896.7 453.4,902 445.4,899.4 437.4,896.7 432,902.5 424.7,907.5 414.7,907.5 407.3,911.2 401,917.4 393.6,918.7 382.4,916.2 371,917.4 367.4,921.2 361.2,928.6 352.5,932.4 344.2,936.5 M496.7,914 491.4,916.7 492.7,922 487.4,927.4 484.7,934 487.4,943.4 484.7,950 478,954 475.4,959.4 469.5,962.3 M469.5,962.3 467,963.5 459.6,966 453.4,969.8 449.6,974.7 439.7,976 429.7,976 421,974.7 416,968.5 412.2,961 402.3,958.5 392.3,953.6 383.6,951 372.4,953.6 362.4,956 352.5,959.5 M352.5,959.5 346.2,953.6 340,950 335.4,950.7 M352.5,959.5 356,968.5 358.7,977.3 363.5,985.5 373.6,989.5 379,997 381,1007 390,1009.6 396.5,1016.2 392.5,1024 387.5,1029 389.6,1035.2 392.5,1047 M469.5,962.3 468.5,971 467.2,981.5 468.8,990.5 M468.8,990.5 471,998 468.5,1006 469.8,1015 466.3,1024 467.3,1030 462,1034.5 454.4,1035.8 446,1035.3 436,1038 428.7,1041 425.5,1042 M468.8,990.5 480.5,992.5 495,994.5 508,995.5 518,996 M518,996 519.4,1004.3 526.8,1007.5 529.5,1017.7 535.5,1028.3 540.7,1034.7 535,1041.5 539,1050 549.7,1053.5 552.5,1065.6 M674,848 671.4,856 670,865.4 667.4,876 669.5,885 667.4,889.4 M667.4,889.4 660,888.8 653,890.3 654.5,893.4 650.8,896.7 644.5,902 638,909 630,914.5 620,916.5 618.7,925.5 M618.7,925.5 609.4,924.7 602.7,930 600,923.4 596,916.7 592,910 586.7,903.4 577.4,903.4 564,900.7 557.4,895.4 549.4,892.7 M618.7,925.5 622.2,929 625.5,936.7 624.5,944.7 626.7,951 622,958 615.5,961.5 613.4,968.7 613.4,974 M613.4,974 604.7,974 596.7,974.7 592.3,968 588.7,961.4 579.4,957.3 567.4,957.5 554,956.5 544.7,960 542,969.4 544.7,977.4 547.4,986.7 542,989.4 530,992 518,996 M613.4,974 617.7,982.4 623,989.7 632.4,995.7 638.4,999 633,1005 626.4,1012.4 629,1017.7 635.7,1024.4 634.5,1031.7 M667.4,889.4 669.5,891.5 672.7,894 672,899 674,904 679,906 681,909.4 683.6,913 683.6,917.8 682.1,923.1 683.6,929.4 686.2,934.7 688.9,938.3 692.5,942.7 689.8,946.6 696,948.4 698.7,953.4 704.9,956.9 706.7,961.4 714.7,963.2 715.6,968.5 715.6,973.2"/>
</defs>
<rect x="0" y="591.8" width="800" height="66.1" fill="#c5e2de"/>
<rect x="12" y="603.7" width="44" height="44" fill="#6ab42c"/>
<g transform="translate(18.3,610.4) scale(1)" fill="none" stroke="#fff" stroke-width="1.55" stroke-linejoin="round"><rect x="0.8" y="0.8" width="28.4" height="30" rx="3.8"/><path d="M0.8,9 H27.6"/><path d="M3.2,8.6 V3.2 M3.2,2.8 H25.5 M3.2,4.7 H25.5 M3.2,6.6 H25.5" stroke-width="0.7"/><rect x="13.6" y="14.6" width="19" height="8.6" rx="4.3" fill="#6ab42c"/><circle cx="18.2" cy="18.9" r="1.6" fill="#fff" stroke="none"/></g>
<text x="205.8" y="636.4" font-size="33.3" fill="#111" stroke="#111" stroke-width="1.13" textLength="387.7" lengthAdjust="spacingAndGlyphs">Рівень середньої заробітної плати</text>
<g transform="translate(0,0)">
<use href="#r-zak" fill="#8cd550" stroke="#8cd550" stroke-width="0.6"/>
<use href="#r-lviv" fill="#8cd550" stroke="#8cd550" stroke-width="0.6"/>
<use href="#r-volyn" fill="#8cd550" stroke="#8cd550" stroke-width="0.6"/>
<use href="#r-rivne" fill="#8cd550" stroke="#8cd550" stroke-width="0.6"/>
<use href="#r-tern" fill="#f9d77e" stroke="#f9d77e" stroke-width="0.6"/>
<use href="#r-if" fill="#8cd550" stroke="#8cd550" stroke-width="0.6"/>
<use href="#r-chrv" fill="#8cd550" stroke="#8cd550" stroke-width="0.6"/>
<use href="#r-khm" fill="#8cd550" stroke="#8cd550" stroke-width="0.6"/>
<use href="#r-zhy" fill="#8cd550" stroke="#8cd550" stroke-width="0.6"/>
<use href="#r-vin" fill="#8cd550" stroke="#8cd550" stroke-width="0.6"/>
<use href="#r-kyiv" fill="#0b6a3b" stroke="#0b6a3b" stroke-width="0.6"/>
<use href="#r-chrh" fill="#f9d77e" stroke="#f9d77e" stroke-width="0.6"/>
<use href="#r-sumy" fill="#8cd550" stroke="#8cd550" stroke-width="0.6"/>
<use href="#r-polt" fill="#8cd550" stroke="#8cd550" stroke-width="0.6"/>
<use href="#r-chrk" fill="#8cd550" stroke="#8cd550" stroke-width="0.6"/>
<use href="#r-kir" fill="#8cd550" stroke="#8cd550" stroke-width="0.6"/>
<use href="#r-ode" fill="#8cd550" stroke="#8cd550" stroke-width="0.6"/>
<use href="#r-myk" fill="#8cd550" stroke="#8cd550" stroke-width="0.6"/>
<use href="#r-khe" fill="#8cd550" stroke="#8cd550" stroke-width="0.6"/>
<use href="#r-khar" fill="#8cd550" stroke="#8cd550" stroke-width="0.6"/>
<use href="#r-dnp" fill="#6ab52a" stroke="#6ab52a" stroke-width="0.6"/>
<use href="#r-zap" fill="#6ab52a" stroke="#6ab52a" stroke-width="0.6"/>
<use href="#r-don" fill="#888888" stroke="#888888" stroke-width="0.6"/>
<use href="#r-luh" fill="#888888" stroke="#888888" stroke-width="0.6"/>
<use href="#r-crim" fill="#888888"/>
<use href="#brd" fill="none" stroke="#fff" stroke-opacity="0.72" stroke-width="0.9" stroke-linejoin="round"/>
<path d="M541.8,1090 Q549,1108 567.4,1126.7" fill="none" stroke="#b9c9a8" stroke-width="0.7"/>
<path d="M562.3,1066.3 L556,1073.5 L550,1079.3" fill="none" stroke="#6ab52a" stroke-opacity="0.75" stroke-width="1.1" stroke-linecap="round"/>
</g>
<g transform="translate(0,0)">
<text x="112.0" y="760.0" font-size="17.6" fill="#000" stroke="#000" stroke-width="0.6" textLength="34.0" lengthAdjust="spacingAndGlyphs">Луцьк</text>
<rect x="109.4" y="764.2" width="39.5" height="18.1" fill="#000" fill-opacity="0.5"/>
<text x="113.5" y="780.1" font-size="19" font-weight="bold" fill="#fff" textLength="31.3" lengthAdjust="spacingAndGlyphs">4110</text>
<text x="191.4" y="749.3" font-size="17.6" fill="#000" stroke="#000" stroke-width="0.6" textLength="28.8" lengthAdjust="spacingAndGlyphs">Рівне</text>
<rect x="186.5" y="753.3" width="39.5" height="18.1" fill="#000" fill-opacity="0.5"/>
<text x="190.2" y="769.2" font-size="19" font-weight="bold" fill="#fff" textLength="32.1" lengthAdjust="spacingAndGlyphs">4435</text>
<text x="250.0" y="792.7" font-size="17.6" fill="#000" stroke="#000" stroke-width="0.6" textLength="50.2" lengthAdjust="spacingAndGlyphs">Житомир</text>
<rect x="255.4" y="796.8" width="39.5" height="18.1" fill="#000" fill-opacity="0.5"/>
<text x="259.1" y="812.7" font-size="19" font-weight="bold" fill="#fff" textLength="32.1" lengthAdjust="spacingAndGlyphs">4134</text>
<text x="348.7" y="807.4" font-size="17.6" fill="#000" stroke="#000" stroke-width="0.6" textLength="22.7" lengthAdjust="spacingAndGlyphs">Київ</text>
<rect x="340.5" y="811.5" width="39.5" height="18.1" fill="#000" fill-opacity="0.5"/>
<text x="344.2" y="827.4" font-size="19" font-weight="bold" fill="#fff" textLength="32.1" lengthAdjust="spacingAndGlyphs">8586</text>
<text x="395.4" y="752.7" font-size="17.6" fill="#000" stroke="#000" stroke-width="0.6" textLength="44.6" lengthAdjust="spacingAndGlyphs">Чернігів</text>
<rect x="398.0" y="757.5" width="39.5" height="18.1" fill="#000" fill-opacity="0.5"/>
<text x="401.7" y="773.4" font-size="19" font-weight="bold" fill="#fff" textLength="32.1" lengthAdjust="spacingAndGlyphs">3910</text>
<text x="516.5" y="776.8" font-size="17.6" fill="#000" stroke="#000" stroke-width="0.6" textLength="28.9" lengthAdjust="spacingAndGlyphs">Суми</text>
<rect x="511.2" y="781.4" width="39.5" height="18.1" fill="#000" fill-opacity="0.5"/>
<text x="514.9" y="797.3" font-size="19" font-weight="bold" fill="#fff" textLength="32.1" lengthAdjust="spacingAndGlyphs">4227</text>
<text x="79.0" y="842.0" font-size="17.6" fill="#000" stroke="#000" stroke-width="0.6" textLength="29.5" lengthAdjust="spacingAndGlyphs">Львів</text>
<rect x="74.0" y="846.5" width="39.5" height="18.1" fill="#000" fill-opacity="0.5"/>
<text x="77.7" y="862.4" font-size="19" font-weight="bold" fill="#fff" textLength="32.1" lengthAdjust="spacingAndGlyphs">4644</text>
<text x="139.2" y="848.0" font-size="17.6" fill="#000" stroke="#000" stroke-width="0.6" textLength="54.2" lengthAdjust="spacingAndGlyphs">Тернопіль</text>
<rect x="145.9" y="854.7" width="39.5" height="18.1" fill="#000" fill-opacity="0.5"/>
<text x="149.6" y="870.6" font-size="19" font-weight="bold" fill="#fff" textLength="32.1" lengthAdjust="spacingAndGlyphs">3727</text>
<text x="174.0" y="890.7" font-size="17.6" fill="#000" stroke="#000" stroke-width="0.6" textLength="81.4" lengthAdjust="spacingAndGlyphs">Хмельницький</text>
<rect x="195.9" y="895.2" width="39.5" height="18.1" fill="#000" fill-opacity="0.5"/>
<text x="199.6" y="911.1" font-size="19" font-weight="bold" fill="#fff" textLength="32.1" lengthAdjust="spacingAndGlyphs">4078</text>
<text x="268.0" y="909.6" font-size="17.6" fill="#000" stroke="#000" stroke-width="0.6" textLength="44.0" lengthAdjust="spacingAndGlyphs">Вінниця</text>
<rect x="270.7" y="914.0" width="39.5" height="18.1" fill="#000" fill-opacity="0.5"/>
<text x="274.4" y="929.9" font-size="19" font-weight="bold" fill="#fff" textLength="32.1" lengthAdjust="spacingAndGlyphs">4233</text>
<text x="395.5" y="871.4" font-size="17.6" fill="#000" stroke="#000" stroke-width="0.6" textLength="45.3" lengthAdjust="spacingAndGlyphs">Черкаси</text>
<rect x="398.1" y="876.0" width="39.5" height="18.1" fill="#000" fill-opacity="0.5"/>
<text x="401.8" y="891.9" font-size="19" font-weight="bold" fill="#fff" textLength="32.1" lengthAdjust="spacingAndGlyphs">4149</text>
<text x="474.7" y="854.0" font-size="17.6" fill="#000" stroke="#000" stroke-width="0.6" textLength="44.1" lengthAdjust="spacingAndGlyphs">Полтава</text>
<rect x="476.9" y="858.9" width="39.5" height="18.1" fill="#000" fill-opacity="0.5"/>
<text x="480.6" y="874.8" font-size="19" font-weight="bold" fill="#fff" textLength="32.1" lengthAdjust="spacingAndGlyphs">4674</text>
<text x="594.2" y="850.6" font-size="17.6" fill="#000" stroke="#000" stroke-width="0.6" textLength="35.2" lengthAdjust="spacingAndGlyphs">Харків</text>
<rect x="592.6" y="854.6" width="39.5" height="18.1" fill="#000" fill-opacity="0.5"/>
<text x="596.3" y="870.5" font-size="19" font-weight="bold" fill="#fff" textLength="32.1" lengthAdjust="spacingAndGlyphs">4534</text>
<text x="26.5" y="924.2" font-size="17.6" fill="#000" stroke="#000" stroke-width="0.6" textLength="46.7" lengthAdjust="spacingAndGlyphs">Ужгород</text>
<rect x="30.8" y="928.7" width="39.5" height="18.1" fill="#000" fill-opacity="0.5"/>
<text x="34.5" y="944.6" font-size="19" font-weight="bold" fill="#fff" textLength="32.1" lengthAdjust="spacingAndGlyphs">4346</text>
<text x="82.6" y="925.3" font-size="17.6" fill="#000" stroke="#000" stroke-width="0.6" textLength="98.1" lengthAdjust="spacingAndGlyphs">Івано-Франківськ</text>
<rect x="112.2" y="930.0" width="39.5" height="18.1" fill="#000" fill-opacity="0.5"/>
<text x="115.9" y="945.9" font-size="19" font-weight="bold" fill="#fff" textLength="32.1" lengthAdjust="spacingAndGlyphs">4285</text>
<text x="172.2" y="944.9" font-size="17.6" fill="#000" stroke="#000" stroke-width="0.6" textLength="45.3" lengthAdjust="spacingAndGlyphs">Чернівці</text>
<rect x="175.4" y="949.4" width="39.5" height="18.1" fill="#000" fill-opacity="0.5"/>
<text x="179.1" y="965.3" font-size="19" font-weight="bold" fill="#fff" textLength="32.1" lengthAdjust="spacingAndGlyphs">4089</text>
<text x="389.8" y="928.4" font-size="17.6" fill="#000" stroke="#000" stroke-width="0.6" textLength="86.2" lengthAdjust="spacingAndGlyphs">Кропивницький</text>
<rect x="414.0" y="932.7" width="39.5" height="18.1" fill="#000" fill-opacity="0.5"/>
<text x="417.7" y="948.6" font-size="19" font-weight="bold" fill="#fff" textLength="32.1" lengthAdjust="spacingAndGlyphs">4027</text>
<text x="529.3" y="924.0" font-size="17.6" fill="#000" stroke="#000" stroke-width="0.6" textLength="37.4" lengthAdjust="spacingAndGlyphs">Дніпро</text>
<rect x="528.0" y="928.7" width="39.5" height="18.1" fill="#000" fill-opacity="0.5"/>
<text x="532.1" y="944.6" font-size="19" font-weight="bold" fill="#fff" textLength="31.3" lengthAdjust="spacingAndGlyphs">5118</text>
<text x="553.2" y="998.7" font-size="17.6" fill="#000" stroke="#000" stroke-width="0.6" textLength="59.6" lengthAdjust="spacingAndGlyphs">Запоріжжя</text>
<rect x="562.6" y="1003.2" width="39.5" height="18.1" fill="#000" fill-opacity="0.5"/>
<text x="566.3" y="1019.1" font-size="19" font-weight="bold" fill="#fff" textLength="32.1" lengthAdjust="spacingAndGlyphs">5181</text>
<text x="341.9" y="1015.4" font-size="17.6" fill="#000" stroke="#000" stroke-width="0.6" textLength="32.1" lengthAdjust="spacingAndGlyphs">Одеса</text>
<rect x="338.7" y="1020.7" width="39.5" height="18.1" fill="#000" fill-opacity="0.5"/>
<text x="342.4" y="1036.6" font-size="19" font-weight="bold" fill="#fff" textLength="32.1" lengthAdjust="spacingAndGlyphs">4761</text>
<text x="402.2" y="996.6" font-size="17.6" fill="#000" stroke="#000" stroke-width="0.6" textLength="52.2" lengthAdjust="spacingAndGlyphs">Миколаїв</text>
<rect x="408.5" y="1000.9" width="39.5" height="18.1" fill="#000" fill-opacity="0.5"/>
<text x="412.2" y="1016.8" font-size="19" font-weight="bold" fill="#fff" textLength="32.1" lengthAdjust="spacingAndGlyphs">5181</text>
<text x="480.6" y="1034.0" font-size="17.6" fill="#000" stroke="#000" stroke-width="0.6" textLength="38.7" lengthAdjust="spacingAndGlyphs">Херсон</text>
<rect x="480.0" y="1038.7" width="39.5" height="18.1" fill="#000" fill-opacity="0.5"/>
<text x="483.7" y="1054.6" font-size="19" font-weight="bold" fill="#fff" textLength="32.1" lengthAdjust="spacingAndGlyphs">4063</text>
</g>
<rect x="41.0" y="1063.5" width="17" height="17" fill="#f9d77e"/>
<text x="65.3" y="1080.3" font-size="16.6" fill="#111" stroke="#111" stroke-width="0.56" textLength="65.3" lengthAdjust="spacingAndGlyphs">3-4 тис. грн</text>
<rect x="41.0" y="1085.0" width="17" height="17" fill="#8cd550"/>
<text x="65.3" y="1101.8" font-size="16.6" fill="#111" stroke="#111" stroke-width="0.56" textLength="65.3" lengthAdjust="spacingAndGlyphs">4-5 тис. грн</text>
<rect x="41.0" y="1106.5" width="17" height="17" fill="#6ab52a"/>
<text x="65.3" y="1123.3" font-size="16.6" fill="#111" stroke="#111" stroke-width="0.56" textLength="65.3" lengthAdjust="spacingAndGlyphs">5-6 тис. грн</text>
<rect x="41.0" y="1128.0" width="17" height="17" fill="#1c9a27"/>
<text x="65.3" y="1144.8" font-size="16.6" fill="#111" stroke="#111" stroke-width="0.56" textLength="64.5" lengthAdjust="spacingAndGlyphs">6-7 тис. грн</text>
<rect x="41.0" y="1149.5" width="17" height="17" fill="#0b6a3b"/>
<text x="65.3" y="1166.3" font-size="16.6" fill="#111" stroke="#111" stroke-width="0.56" textLength="57.8" lengthAdjust="spacingAndGlyphs">&gt;7 тис. грн</text>
<rect x="0" y="1204.9" width="800" height="66.1" fill="#c5e2de"/>
<rect x="13" y="1216.8" width="44" height="44" fill="#ee8a20"/>
<g transform="translate(13,1216.8)"><rect x="4" y="18.5" width="35" height="4.6" rx="1.6" fill="#fff"/><path d="M6,22.6 H36.9 L33.6,35.6 Q33.2,37.3 31.4,37.3 H11.5 Q9.7,37.3 9.3,35.6 Z" fill="#fff"/><g stroke="#ee8a20" stroke-width="4" stroke-linecap="round"><path d="M6.4,9.9 L16.5,20.1 M36.8,9.9 L26.7,20.1"/></g><g stroke="#fff" stroke-width="2" stroke-linecap="round"><path d="M6.4,9.9 L16.5,20.1 M36.8,9.9 L26.7,20.1"/></g><g stroke="#ee8a20" stroke-width="2" stroke-linecap="round"><path d="M16,25.6 V33.8 M21.4,25.6 V33.8 M26.7,25.6 V33.8"/></g></g>
<text x="177.0" y="1249.5" font-size="33.3" fill="#111" stroke="#111" stroke-width="1.13" textLength="448.4" lengthAdjust="spacingAndGlyphs">Вартість умовного споживчого кошика</text>
<g transform="translate(1.00,612.60) scale(1.004,1)">
<use href="#r-zak" fill="#f9c863" stroke="#f9c863" stroke-width="0.6"/>
<use href="#r-lviv" fill="#f9c863" stroke="#f9c863" stroke-width="0.6"/>
<use href="#r-volyn" fill="#f08c1e" stroke="#f08c1e" stroke-width="0.6"/>
<use href="#r-rivne" fill="#f9c863" stroke="#f9c863" stroke-width="0.6"/>
<use href="#r-tern" fill="#f9c863" stroke="#f9c863" stroke-width="0.6"/>
<use href="#r-if" fill="#f9c863" stroke="#f9c863" stroke-width="0.6"/>
<use href="#r-chrv" fill="#f9c863" stroke="#f9c863" stroke-width="0.6"/>
<use href="#r-khm" fill="#f9c863" stroke="#f9c863" stroke-width="0.6"/>
<use href="#r-zhy" fill="#f9c863" stroke="#f9c863" stroke-width="0.6"/>
<use href="#r-vin" fill="#f9c863" stroke="#f9c863" stroke-width="0.6"/>
<use href="#r-kyiv" fill="#e0551a" stroke="#e0551a" stroke-width="0.6"/>
<use href="#r-chrh" fill="#f08c1e" stroke="#f08c1e" stroke-width="0.6"/>
<use href="#r-sumy" fill="#f08c1e" stroke="#f08c1e" stroke-width="0.6"/>
<use href="#r-polt" fill="#f9c863" stroke="#f9c863" stroke-width="0.6"/>
<use href="#r-chrk" fill="#f9c863" stroke="#f9c863" stroke-width="0.6"/>
<use href="#r-kir" fill="#f9c863" stroke="#f9c863" stroke-width="0.6"/>
<use href="#r-ode" fill="#f08c1e" stroke="#f08c1e" stroke-width="0.6"/>
<use href="#r-myk" fill="#f9c863" stroke="#f9c863" stroke-width="0.6"/>
<use href="#r-khe" fill="#f9c863" stroke="#f9c863" stroke-width="0.6"/>
<use href="#r-khar" fill="#f08c1e" stroke="#f08c1e" stroke-width="0.6"/>
<use href="#r-dnp" fill="#f08c1e" stroke="#f08c1e" stroke-width="0.6"/>
<use href="#r-zap" fill="#f9c863" stroke="#f9c863" stroke-width="0.6"/>
<use href="#r-don" fill="#888888" stroke="#888888" stroke-width="0.6"/>
<use href="#r-luh" fill="#888888" stroke="#888888" stroke-width="0.6"/>
<use href="#r-crim" fill="#888888"/>
<use href="#brd" fill="none" stroke="#fff" stroke-opacity="0.72" stroke-width="0.9" stroke-linejoin="round"/>
<path d="M541.8,1090 Q549,1108 567.4,1126.7" fill="none" stroke="#b9c9a8" stroke-width="0.7"/>
<path d="M562.3,1066.3 L556,1073.5 L550,1079.3" fill="none" stroke="#f9c863" stroke-opacity="0.75" stroke-width="1.1" stroke-linecap="round"/>
</g>
<g transform="translate(0.3,612.3)">
<text x="112.0" y="760.0" font-size="17.6" fill="#000" stroke="#000" stroke-width="0.6" textLength="34.0" lengthAdjust="spacingAndGlyphs">Луцьк</text>
<rect x="109.4" y="764.2" width="39.5" height="18.1" fill="#000" fill-opacity="0.5"/>
<text x="117.1" y="780.1" font-size="19" font-weight="bold" fill="#fff" textLength="24.1" lengthAdjust="spacingAndGlyphs">708</text>
<text x="191.4" y="749.3" font-size="17.6" fill="#000" stroke="#000" stroke-width="0.6" textLength="28.8" lengthAdjust="spacingAndGlyphs">Рівне</text>
<rect x="186.5" y="753.3" width="39.5" height="18.1" fill="#000" fill-opacity="0.5"/>
<text x="194.2" y="769.2" font-size="19" font-weight="bold" fill="#fff" textLength="24.1" lengthAdjust="spacingAndGlyphs">689</text>
<text x="250.0" y="792.7" font-size="17.6" fill="#000" stroke="#000" stroke-width="0.6" textLength="50.2" lengthAdjust="spacingAndGlyphs">Житомир</text>
<rect x="255.4" y="796.8" width="39.5" height="18.1" fill="#000" fill-opacity="0.5"/>
<text x="263.1" y="812.7" font-size="19" font-weight="bold" fill="#fff" textLength="24.1" lengthAdjust="spacingAndGlyphs">688</text>
<text x="348.7" y="807.4" font-size="17.6" fill="#000" stroke="#000" stroke-width="0.6" textLength="22.7" lengthAdjust="spacingAndGlyphs">Київ</text>
<rect x="340.5" y="811.5" width="39.5" height="18.1" fill="#000" fill-opacity="0.5"/>
<text x="348.2" y="827.4" font-size="19" font-weight="bold" fill="#fff" textLength="24.1" lengthAdjust="spacingAndGlyphs">764</text>
<text x="395.4" y="752.7" font-size="17.6" fill="#000" stroke="#000" stroke-width="0.6" textLength="44.6" lengthAdjust="spacingAndGlyphs">Чернігів</text>
<rect x="398.0" y="757.5" width="39.5" height="18.1" fill="#000" fill-opacity="0.5"/>
<text x="405.7" y="773.4" font-size="19" font-weight="bold" fill="#fff" textLength="24.1" lengthAdjust="spacingAndGlyphs">718</text>
<text x="516.5" y="776.8" font-size="17.6" fill="#000" stroke="#000" stroke-width="0.6" textLength="28.9" lengthAdjust="spacingAndGlyphs">Суми</text>
<rect x="511.2" y="781.4" width="39.5" height="18.1" fill="#000" fill-opacity="0.5"/>
<text x="518.9" y="797.3" font-size="19" font-weight="bold" fill="#fff" textLength="24.1" lengthAdjust="spacingAndGlyphs">701</text>
<text x="79.0" y="842.0" font-size="17.6" fill="#000" stroke="#000" stroke-width="0.6" textLength="29.5" lengthAdjust="spacingAndGlyphs">Львів</text>
<rect x="74.0" y="846.5" width="39.5" height="18.1" fill="#000" fill-opacity="0.5"/>
<text x="81.7" y="862.4" font-size="19" font-weight="bold" fill="#fff" textLength="24.1" lengthAdjust="spacingAndGlyphs">694</text>
<text x="139.2" y="848.0" font-size="17.6" fill="#000" stroke="#000" stroke-width="0.6" textLength="54.2" lengthAdjust="spacingAndGlyphs">Тернопіль</text>
<rect x="145.9" y="854.7" width="39.5" height="18.1" fill="#000" fill-opacity="0.5"/>
<text x="153.6" y="870.6" font-size="19" font-weight="bold" fill="#fff" textLength="24.1" lengthAdjust="spacingAndGlyphs">666</text>
<text x="174.0" y="890.7" font-size="17.6" fill="#000" stroke="#000" stroke-width="0.6" textLength="81.4" lengthAdjust="spacingAndGlyphs">Хмельницький</text>
<rect x="195.9" y="895.2" width="39.5" height="18.1" fill="#000" fill-opacity="0.5"/>
<text x="203.6" y="911.1" font-size="19" font-weight="bold" fill="#fff" textLength="24.1" lengthAdjust="spacingAndGlyphs">668</text>
<text x="268.0" y="909.6" font-size="17.6" fill="#000" stroke="#000" stroke-width="0.6" textLength="44.0" lengthAdjust="spacingAndGlyphs">Вінниця</text>
<rect x="270.7" y="914.0" width="39.5" height="18.1" fill="#000" fill-opacity="0.5"/>
<text x="278.4" y="929.9" font-size="19" font-weight="bold" fill="#fff" textLength="24.1" lengthAdjust="spacingAndGlyphs">683</text>
<text x="395.5" y="871.4" font-size="17.6" fill="#000" stroke="#000" stroke-width="0.6" textLength="45.3" lengthAdjust="spacingAndGlyphs">Черкаси</text>
<rect x="398.1" y="876.0" width="39.5" height="18.1" fill="#000" fill-opacity="0.5"/>
<text x="405.8" y="891.9" font-size="19" font-weight="bold" fill="#fff" textLength="24.1" lengthAdjust="spacingAndGlyphs">685</text>
<text x="474.7" y="854.0" font-size="17.6" fill="#000" stroke="#000" stroke-width="0.6" textLength="44.1" lengthAdjust="spacingAndGlyphs">Полтава</text>
<rect x="476.9" y="858.9" width="39.5" height="18.1" fill="#000" fill-opacity="0.5"/>
<text x="484.6" y="874.8" font-size="19" font-weight="bold" fill="#fff" textLength="24.1" lengthAdjust="spacingAndGlyphs">685</text>
<text x="594.2" y="850.6" font-size="17.6" fill="#000" stroke="#000" stroke-width="0.6" textLength="35.2" lengthAdjust="spacingAndGlyphs">Харків</text>
<rect x="592.6" y="854.6" width="39.5" height="18.1" fill="#000" fill-opacity="0.5"/>
<text x="600.3" y="870.5" font-size="19" font-weight="bold" fill="#fff" textLength="24.1" lengthAdjust="spacingAndGlyphs">716</text>
<text x="26.5" y="924.2" font-size="17.6" fill="#000" stroke="#000" stroke-width="0.6" textLength="46.7" lengthAdjust="spacingAndGlyphs">Ужгород</text>
<rect x="30.8" y="928.7" width="39.5" height="18.1" fill="#000" fill-opacity="0.5"/>
<text x="38.5" y="944.6" font-size="19" font-weight="bold" fill="#fff" textLength="24.1" lengthAdjust="spacingAndGlyphs">684</text>
<text x="82.6" y="925.3" font-size="17.6" fill="#000" stroke="#000" stroke-width="0.6" textLength="98.1" lengthAdjust="spacingAndGlyphs">Івано-Франківськ</text>
<rect x="112.2" y="930.0" width="39.5" height="18.1" fill="#000" fill-opacity="0.5"/>
<text x="119.9" y="945.9" font-size="19" font-weight="bold" fill="#fff" textLength="24.1" lengthAdjust="spacingAndGlyphs">682</text>
<text x="172.2" y="944.9" font-size="17.6" fill="#000" stroke="#000" stroke-width="0.6" textLength="45.3" lengthAdjust="spacingAndGlyphs">Чернівці</text>
<rect x="175.4" y="949.4" width="39.5" height="18.1" fill="#000" fill-opacity="0.5"/>
<text x="183.1" y="965.3" font-size="19" font-weight="bold" fill="#fff" textLength="24.1" lengthAdjust="spacingAndGlyphs">695</text>
<text x="389.8" y="928.4" font-size="17.6" fill="#000" stroke="#000" stroke-width="0.6" textLength="86.2" lengthAdjust="spacingAndGlyphs">Кропивницький</text>
<rect x="414.0" y="932.7" width="39.5" height="18.1" fill="#000" fill-opacity="0.5"/>
<text x="421.7" y="948.6" font-size="19" font-weight="bold" fill="#fff" textLength="24.1" lengthAdjust="spacingAndGlyphs">697</text>
<text x="529.3" y="924.0" font-size="17.6" fill="#000" stroke="#000" stroke-width="0.6" textLength="37.4" lengthAdjust="spacingAndGlyphs">Дніпро</text>
<rect x="528.0" y="928.7" width="39.5" height="18.1" fill="#000" fill-opacity="0.5"/>
<text x="535.7" y="944.6" font-size="19" font-weight="bold" fill="#fff" textLength="24.1" lengthAdjust="spacingAndGlyphs">722</text>
<text x="553.2" y="998.7" font-size="17.6" fill="#000" stroke="#000" stroke-width="0.6" textLength="59.6" lengthAdjust="spacingAndGlyphs">Запоріжжя</text>
<rect x="562.6" y="1003.2" width="39.5" height="18.1" fill="#000" fill-opacity="0.5"/>
<text x="570.3" y="1019.1" font-size="19" font-weight="bold" fill="#fff" textLength="24.1" lengthAdjust="spacingAndGlyphs">679</text>
<text x="341.9" y="1015.4" font-size="17.6" fill="#000" stroke="#000" stroke-width="0.6" textLength="32.1" lengthAdjust="spacingAndGlyphs">Одеса</text>
<rect x="338.7" y="1020.7" width="39.5" height="18.1" fill="#000" fill-opacity="0.5"/>
<text x="346.4" y="1036.6" font-size="19" font-weight="bold" fill="#fff" textLength="24.1" lengthAdjust="spacingAndGlyphs">731</text>
<text x="402.2" y="996.6" font-size="17.6" fill="#000" stroke="#000" stroke-width="0.6" textLength="52.2" lengthAdjust="spacingAndGlyphs">Миколаїв</text>
<rect x="408.5" y="1000.9" width="39.5" height="18.1" fill="#000" fill-opacity="0.5"/>
<text x="416.2" y="1016.8" font-size="19" font-weight="bold" fill="#fff" textLength="24.1" lengthAdjust="spacingAndGlyphs">688</text>
<text x="480.6" y="1034.0" font-size="17.6" fill="#000" stroke="#000" stroke-width="0.6" textLength="38.7" lengthAdjust="spacingAndGlyphs">Херсон</text>
<rect x="480.0" y="1038.7" width="39.5" height="18.1" fill="#000" fill-opacity="0.5"/>
<text x="487.7" y="1054.6" font-size="19" font-weight="bold" fill="#fff" textLength="24.1" lengthAdjust="spacingAndGlyphs">696</text>
</g>
<rect x="42.0" y="1675.0" width="17" height="17" fill="#f9c863"/>
<text x="66.3" y="1690.0" font-size="16.6" fill="#111" stroke="#111" stroke-width="0.56" textLength="66.2" lengthAdjust="spacingAndGlyphs">650-699 грн</text>
<rect x="42.0" y="1699.7" width="17" height="17" fill="#f08c1e"/>
<text x="66.3" y="1714.7" font-size="16.6" fill="#111" stroke="#111" stroke-width="0.56" textLength="64.3" lengthAdjust="spacingAndGlyphs">700-749 грн</text>
<rect x="42.0" y="1724.5" width="17" height="17" fill="#e0551a"/>
<text x="66.3" y="1739.5" font-size="16.6" fill="#111" stroke="#111" stroke-width="0.56" textLength="45.8" lengthAdjust="spacingAndGlyphs">&gt;750 грн</text>
<rect x="0" y="1820.7" width="800" height="66.4" fill="#c5e2de"/>
<rect x="13" y="1832.8" width="44" height="44" fill="#0d94a9"/>
<g transform="translate(13,1832.8)"><path d="M6.1,39.1 V11.5 L14.7,5.3 L22.1,9.9 L29.4,5.3 L37.9,11.5 V39.1 Z" fill="#fff" stroke="#fff" stroke-width="0.8" stroke-linejoin="round"/><g fill="#0d94a9"><rect x="9.8" y="13.1" width="2.7" height="2.7" rx="0.8"/><rect x="9.8" y="19.4" width="2.7" height="2.7" rx="0.8"/><rect x="9.8" y="25.9" width="2.7" height="2.7" rx="0.8"/><rect x="9.8" y="32.5" width="2.7" height="2.7" rx="0.8"/><rect x="16.5" y="13.1" width="2.7" height="2.7" rx="0.8"/><rect x="16.5" y="19.4" width="2.7" height="2.7" rx="0.8"/><rect x="16.5" y="25.9" width="2.7" height="2.7" rx="0.8"/><rect x="16.5" y="32.5" width="2.7" height="2.7" rx="0.8"/><rect x="24.5" y="13.1" width="2.7" height="2.7" rx="0.8"/><rect x="24.5" y="19.4" width="2.7" height="2.7" rx="0.8"/><rect x="24.5" y="25.9" width="2.7" height="2.7" rx="0.8"/><rect x="24.5" y="32.5" width="2.7" height="2.7" rx="0.8"/><rect x="31.2" y="13.1" width="2.7" height="2.7" rx="0.8"/><rect x="31.2" y="19.4" width="2.7" height="2.7" rx="0.8"/><rect x="31.2" y="25.9" width="2.7" height="2.7" rx="0.8"/><rect x="31.2" y="32.5" width="2.7" height="2.7" rx="0.8"/></g></g>
<text x="68.0" y="1865.9" font-size="33.3" fill="#111" stroke="#111" stroke-width="1.13" textLength="685.3" lengthAdjust="spacingAndGlyphs">Середня вартість житла економкласу на вторинному  ринку</text>
<g transform="translate(1.03,1229.00) scale(1.0034,1)">
<use href="#r-zak" fill="#0e96b1" stroke="#0e96b1" stroke-width="0.6"/>
<use href="#r-lviv" fill="#0a7c8a" stroke="#0a7c8a" stroke-width="0.6"/>
<use href="#r-volyn" fill="#0e96b1" stroke="#0e96b1" stroke-width="0.6"/>
<use href="#r-rivne" fill="#0e96b1" stroke="#0e96b1" stroke-width="0.6"/>
<use href="#r-tern" fill="#0a7c8a" stroke="#0a7c8a" stroke-width="0.6"/>
<use href="#r-if" fill="#a6daf0" stroke="#a6daf0" stroke-width="0.6"/>
<use href="#r-chrv" fill="#0a7c8a" stroke="#0a7c8a" stroke-width="0.6"/>
<use href="#r-khm" fill="#0e96b1" stroke="#0e96b1" stroke-width="0.6"/>
<use href="#r-zhy" fill="#62c8ea" stroke="#62c8ea" stroke-width="0.6"/>
<use href="#r-vin" fill="#0e96b1" stroke="#0e96b1" stroke-width="0.6"/>
<use href="#r-kyiv" fill="#0a7c8a" stroke="#0a7c8a" stroke-width="0.6"/>
<use href="#r-chrh" fill="#62c8ea" stroke="#62c8ea" stroke-width="0.6"/>
<use href="#r-sumy" fill="#2fb2d8" stroke="#2fb2d8" stroke-width="0.6"/>
<use href="#r-polt" fill="#2fb2d8" stroke="#2fb2d8" stroke-width="0.6"/>
<use href="#r-chrk" fill="#a6daf0" stroke="#a6daf0" stroke-width="0.6"/>
<use href="#r-kir" fill="#a6daf0" stroke="#a6daf0" stroke-width="0.6"/>
<use href="#r-ode" fill="#0a7c8a" stroke="#0a7c8a" stroke-width="0.6"/>
<use href="#r-myk" fill="#62c8ea" stroke="#62c8ea" stroke-width="0.6"/>
<use href="#r-khe" fill="#62c8ea" stroke="#62c8ea" stroke-width="0.6"/>
<use href="#r-khar" fill="#0e96b1" stroke="#0e96b1" stroke-width="0.6"/>
<use href="#r-dnp" fill="#0e96b1" stroke="#0e96b1" stroke-width="0.6"/>
<use href="#r-zap" fill="#62c8ea" stroke="#62c8ea" stroke-width="0.6"/>
<use href="#r-don" fill="#888888" stroke="#888888" stroke-width="0.6"/>
<use href="#r-luh" fill="#888888" stroke="#888888" stroke-width="0.6"/>
<use href="#r-crim" fill="#888888"/>
<use href="#brd" fill="none" stroke="#fff" stroke-opacity="0.72" stroke-width="0.9" stroke-linejoin="round"/>
<path d="M541.8,1090 Q549,1108 567.4,1126.7" fill="none" stroke="#b9c9a8" stroke-width="0.7"/>
<path d="M562.3,1066.3 L556,1073.5 L550,1079.3" fill="none" stroke="#62c8ea" stroke-opacity="0.75" stroke-width="1.1" stroke-linecap="round"/>
</g>
<g transform="translate(0,1229)">
<text x="112.0" y="760.0" font-size="17.6" fill="#000" stroke="#000" stroke-width="0.6" textLength="34.0" lengthAdjust="spacingAndGlyphs">Луцьк</text>
<rect x="109.4" y="764.2" width="39.5" height="18.1" fill="#000" fill-opacity="0.5"/>
<text x="115.1" y="780.1" font-size="19" font-weight="bold" fill="#fff" textLength="28.1" lengthAdjust="spacingAndGlyphs">15,3</text>
<text x="191.4" y="749.3" font-size="17.6" fill="#000" stroke="#000" stroke-width="0.6" textLength="28.8" lengthAdjust="spacingAndGlyphs">Рівне</text>
<rect x="186.5" y="753.3" width="39.5" height="18.1" fill="#000" fill-opacity="0.5"/>
<text x="192.2" y="769.2" font-size="19" font-weight="bold" fill="#fff" textLength="28.1" lengthAdjust="spacingAndGlyphs">16,7</text>
<text x="250.0" y="792.7" font-size="17.6" fill="#000" stroke="#000" stroke-width="0.6" textLength="50.2" lengthAdjust="spacingAndGlyphs">Житомир</text>
<rect x="255.4" y="796.8" width="39.5" height="18.1" fill="#000" fill-opacity="0.5"/>
<text x="261.1" y="812.7" font-size="19" font-weight="bold" fill="#fff" textLength="28.1" lengthAdjust="spacingAndGlyphs">13,9</text>
<text x="348.7" y="807.4" font-size="17.6" fill="#000" stroke="#000" stroke-width="0.6" textLength="22.7" lengthAdjust="spacingAndGlyphs">Київ</text>
<rect x="340.5" y="811.5" width="39.5" height="18.1" fill="#000" fill-opacity="0.5"/>
<text x="346.2" y="827.4" font-size="19" font-weight="bold" fill="#fff" textLength="28.1" lengthAdjust="spacingAndGlyphs">29,1</text>
<text x="395.4" y="752.7" font-size="17.6" fill="#000" stroke="#000" stroke-width="0.6" textLength="44.6" lengthAdjust="spacingAndGlyphs">Чернігів</text>
<rect x="398.0" y="757.5" width="39.5" height="18.1" fill="#000" fill-opacity="0.5"/>
<text x="403.7" y="773.4" font-size="19" font-weight="bold" fill="#fff" textLength="28.1" lengthAdjust="spacingAndGlyphs">13,3</text>
<text x="516.5" y="776.8" font-size="17.6" fill="#000" stroke="#000" stroke-width="0.6" textLength="28.9" lengthAdjust="spacingAndGlyphs">Суми</text>
<rect x="511.2" y="781.4" width="39.5" height="18.1" fill="#000" fill-opacity="0.5"/>
<text x="516.9" y="797.3" font-size="19" font-weight="bold" fill="#fff" textLength="28.1" lengthAdjust="spacingAndGlyphs">14,3</text>
<text x="79.0" y="842.0" font-size="17.6" fill="#000" stroke="#000" stroke-width="0.6" textLength="29.5" lengthAdjust="spacingAndGlyphs">Львів</text>
<rect x="74.0" y="846.5" width="39.5" height="18.1" fill="#000" fill-opacity="0.5"/>
<text x="79.7" y="862.4" font-size="19" font-weight="bold" fill="#fff" textLength="28.1" lengthAdjust="spacingAndGlyphs">22,7</text>
<text x="139.2" y="848.0" font-size="17.6" fill="#000" stroke="#000" stroke-width="0.6" textLength="54.2" lengthAdjust="spacingAndGlyphs">Тернопіль</text>
<rect x="145.9" y="854.7" width="39.5" height="18.1" fill="#000" fill-opacity="0.5"/>
<text x="151.6" y="870.6" font-size="19" font-weight="bold" fill="#fff" textLength="28.1" lengthAdjust="spacingAndGlyphs">16,5</text>
<text x="174.0" y="890.7" font-size="17.6" fill="#000" stroke="#000" stroke-width="0.6" textLength="81.4" lengthAdjust="spacingAndGlyphs">Хмельницький</text>
<rect x="195.9" y="895.2" width="39.5" height="18.1" fill="#000" fill-opacity="0.5"/>
<text x="207.6" y="911.1" font-size="19" font-weight="bold" fill="#fff" textLength="16.1" lengthAdjust="spacingAndGlyphs">15</text>
<text x="268.0" y="909.6" font-size="17.6" fill="#000" stroke="#000" stroke-width="0.6" textLength="44.0" lengthAdjust="spacingAndGlyphs">Вінниця</text>
<rect x="270.7" y="914.0" width="39.5" height="18.1" fill="#000" fill-opacity="0.5"/>
<text x="282.4" y="929.9" font-size="19" font-weight="bold" fill="#fff" textLength="16.1" lengthAdjust="spacingAndGlyphs">15</text>
<text x="395.5" y="871.4" font-size="17.6" fill="#000" stroke="#000" stroke-width="0.6" textLength="45.3" lengthAdjust="spacingAndGlyphs">Черкаси</text>
<rect x="398.1" y="876.0" width="39.5" height="18.1" fill="#000" fill-opacity="0.5"/>
<text x="403.8" y="891.9" font-size="19" font-weight="bold" fill="#fff" textLength="28.1" lengthAdjust="spacingAndGlyphs">12,9</text>
<text x="474.7" y="854.0" font-size="17.6" fill="#000" stroke="#000" stroke-width="0.6" textLength="44.1" lengthAdjust="spacingAndGlyphs">Полтава</text>
<rect x="476.9" y="858.9" width="39.5" height="18.1" fill="#000" fill-opacity="0.5"/>
<text x="482.6" y="874.8" font-size="19" font-weight="bold" fill="#fff" textLength="28.1" lengthAdjust="spacingAndGlyphs">14,9</text>
<text x="594.2" y="850.6" font-size="17.6" fill="#000" stroke="#000" stroke-width="0.6" textLength="35.2" lengthAdjust="spacingAndGlyphs">Харків</text>
<rect x="592.6" y="854.6" width="39.5" height="18.1" fill="#000" fill-opacity="0.5"/>
<text x="598.3" y="870.5" font-size="19" font-weight="bold" fill="#fff" textLength="28.1" lengthAdjust="spacingAndGlyphs">15,7</text>
<text x="26.5" y="924.2" font-size="17.6" fill="#000" stroke="#000" stroke-width="0.6" textLength="46.7" lengthAdjust="spacingAndGlyphs">Ужгород</text>
<rect x="30.8" y="928.7" width="39.5" height="18.1" fill="#000" fill-opacity="0.5"/>
<text x="36.5" y="944.6" font-size="19" font-weight="bold" fill="#fff" textLength="28.1" lengthAdjust="spacingAndGlyphs">15,5</text>
<text x="82.6" y="925.3" font-size="17.6" fill="#000" stroke="#000" stroke-width="0.6" textLength="98.1" lengthAdjust="spacingAndGlyphs">Івано-Франківськ</text>
<rect x="112.2" y="930.0" width="39.5" height="18.1" fill="#000" fill-opacity="0.5"/>
<text x="117.9" y="945.9" font-size="19" font-weight="bold" fill="#fff" textLength="28.1" lengthAdjust="spacingAndGlyphs">12.4</text>
<text x="172.2" y="944.9" font-size="17.6" fill="#000" stroke="#000" stroke-width="0.6" textLength="45.3" lengthAdjust="spacingAndGlyphs">Чернівці</text>
<rect x="175.4" y="949.4" width="39.5" height="18.1" fill="#000" fill-opacity="0.5"/>
<text x="181.1" y="965.3" font-size="19" font-weight="bold" fill="#fff" textLength="28.1" lengthAdjust="spacingAndGlyphs">16,1</text>
<text x="389.8" y="928.4" font-size="17.6" fill="#000" stroke="#000" stroke-width="0.6" textLength="86.2" lengthAdjust="spacingAndGlyphs">Кропивницький</text>
<rect x="414.0" y="932.7" width="39.5" height="18.1" fill="#000" fill-opacity="0.5"/>
<text x="419.7" y="948.6" font-size="19" font-weight="bold" fill="#fff" textLength="28.1" lengthAdjust="spacingAndGlyphs">12,5</text>
<text x="529.3" y="924.0" font-size="17.6" fill="#000" stroke="#000" stroke-width="0.6" textLength="37.4" lengthAdjust="spacingAndGlyphs">Дніпро</text>
<rect x="528.0" y="928.7" width="39.5" height="18.1" fill="#000" fill-opacity="0.5"/>
<text x="533.7" y="944.6" font-size="19" font-weight="bold" fill="#fff" textLength="28.1" lengthAdjust="spacingAndGlyphs">15,2</text>
<text x="553.2" y="998.7" font-size="17.6" fill="#000" stroke="#000" stroke-width="0.6" textLength="59.6" lengthAdjust="spacingAndGlyphs">Запоріжжя</text>
<rect x="562.6" y="1003.2" width="39.5" height="18.1" fill="#000" fill-opacity="0.5"/>
<text x="568.3" y="1019.1" font-size="19" font-weight="bold" fill="#fff" textLength="28.1" lengthAdjust="spacingAndGlyphs">13,1</text>
<text x="341.9" y="1015.4" font-size="17.6" fill="#000" stroke="#000" stroke-width="0.6" textLength="32.1" lengthAdjust="spacingAndGlyphs">Одеса</text>
<rect x="338.7" y="1020.7" width="39.5" height="18.1" fill="#000" fill-opacity="0.5"/>
<text x="344.4" y="1036.6" font-size="19" font-weight="bold" fill="#fff" textLength="28.1" lengthAdjust="spacingAndGlyphs">20,9</text>
<text x="402.2" y="996.6" font-size="17.6" fill="#000" stroke="#000" stroke-width="0.6" textLength="52.2" lengthAdjust="spacingAndGlyphs">Миколаїв</text>
<rect x="408.5" y="1000.9" width="39.5" height="18.1" fill="#000" fill-opacity="0.5"/>
<text x="414.2" y="1016.8" font-size="19" font-weight="bold" fill="#fff" textLength="28.1" lengthAdjust="spacingAndGlyphs">13,6</text>
<text x="480.6" y="1034.0" font-size="17.6" fill="#000" stroke="#000" stroke-width="0.6" textLength="38.7" lengthAdjust="spacingAndGlyphs">Херсон</text>
<rect x="480.0" y="1038.7" width="39.5" height="18.1" fill="#000" fill-opacity="0.5"/>
<text x="485.7" y="1054.6" font-size="19" font-weight="bold" fill="#fff" textLength="28.1" lengthAdjust="spacingAndGlyphs">13,1</text>
</g>
<rect x="42.0" y="2267.4" width="17" height="17" fill="#a6daf0"/>
<text x="67.3" y="2282.7" font-size="16.6" fill="#111" stroke="#111" stroke-width="0.56" textLength="114.6" lengthAdjust="spacingAndGlyphs">12-13 тис. грн/кв. м</text>
<rect x="42.0" y="2292.4" width="17" height="17" fill="#62c8ea"/>
<text x="67.3" y="2307.7" font-size="16.6" fill="#111" stroke="#111" stroke-width="0.56" textLength="114.6" lengthAdjust="spacingAndGlyphs">13-14 тис. грн/кв. м</text>
<rect x="42.0" y="2317.8" width="17" height="17" fill="#2fb2d8"/>
<text x="67.3" y="2333.1" font-size="16.6" fill="#111" stroke="#111" stroke-width="0.56" textLength="111.0" lengthAdjust="spacingAndGlyphs">14-15 тис. грн/кв.м</text>
<rect x="42.0" y="2343.7" width="17" height="17" fill="#0e96b1"/>
<text x="67.3" y="2359.0" font-size="16.6" fill="#111" stroke="#111" stroke-width="0.56" textLength="114.6" lengthAdjust="spacingAndGlyphs">15-16 тис. грн/кв. м</text>
<rect x="42.0" y="2370.6" width="17" height="17" fill="#0a7c8a"/>
<text x="67.3" y="2385.9" font-size="16.6" fill="#111" stroke="#111" stroke-width="0.56" textLength="101.0" lengthAdjust="spacingAndGlyphs">&gt;16 тис. грн/кв. м</text>
<rect x="0" y="2437.1" width="800" height="65.8" fill="#c5e2de"/>
<rect x="12" y="2448.8" width="44" height="44" fill="#e64046"/>
<g transform="translate(12,2448.8)" fill="none" stroke="#fff" stroke-width="1.9" stroke-linecap="round"><circle cx="30.4" cy="12.1" r="7.6"/><rect x="24.3" y="19.6" width="11.4" height="3.6" fill="#fff" stroke-width="0.6"/><path d="M22.3,16.3 L23.6,17" stroke-width="2.4"/><path d="M10.4,23.6 A7.4,7.4 0 1 1 4.2,35.6"/><rect x="18.4" y="24" width="4.3" height="10.8" fill="#fff" stroke-width="0.6"/><path d="M13.5,22 L16.8,24.4 M15.6,21 L16.6,23.6" stroke-width="1.4"/><path d="M23,29.8 Q29.5,29 29.9,24.3" stroke-width="1.3"/></g>
<text x="241.0" y="2480.8" font-size="33.3" fill="#111" stroke="#111" stroke-width="1.13" textLength="340.0" lengthAdjust="spacingAndGlyphs">Загальний рівень злочинності</text>
<g transform="translate(0.87,1844.30) scale(1.0026,1)">
<use href="#r-zak" fill="#fad4d1" stroke="#fad4d1" stroke-width="0.6"/>
<use href="#r-lviv" fill="#fad4d1" stroke="#fad4d1" stroke-width="0.6"/>
<use href="#r-volyn" fill="#fad4d1" stroke="#fad4d1" stroke-width="0.6"/>
<use href="#r-rivne" fill="#fad4d1" stroke="#fad4d1" stroke-width="0.6"/>
<use href="#r-tern" fill="#fad4d1" stroke="#fad4d1" stroke-width="0.6"/>
<use href="#r-if" fill="#fad4d1" stroke="#fad4d1" stroke-width="0.6"/>
<use href="#r-chrv" fill="#f0aeac" stroke="#f0aeac" stroke-width="0.6"/>
<use href="#r-khm" fill="#fad4d1" stroke="#fad4d1" stroke-width="0.6"/>
<use href="#r-zhy" fill="#fad4d1" stroke="#fad4d1" stroke-width="0.6"/>
<use href="#r-vin" fill="#fad4d1" stroke="#fad4d1" stroke-width="0.6"/>
<use href="#r-kyiv" fill="#f03e3e" stroke="#f03e3e" stroke-width="0.6"/>
<use href="#r-chrh" fill="#f0aeac" stroke="#f0aeac" stroke-width="0.6"/>
<use href="#r-sumy" fill="#fad4d1" stroke="#fad4d1" stroke-width="0.6"/>
<use href="#r-polt" fill="#f0aeac" stroke="#f0aeac" stroke-width="0.6"/>
<use href="#r-chrk" fill="#f0aeac" stroke="#f0aeac" stroke-width="0.6"/>
<use href="#r-kir" fill="#f3908e" stroke="#f3908e" stroke-width="0.6"/>
<use href="#r-ode" fill="#f0aeac" stroke="#f0aeac" stroke-width="0.6"/>
<use href="#r-myk" fill="#f3908e" stroke="#f3908e" stroke-width="0.6"/>
<use href="#r-khe" fill="#fad4d1" stroke="#fad4d1" stroke-width="0.6"/>
<use href="#r-khar" fill="#f0aeac" stroke="#f0aeac" stroke-width="0.6"/>
<use href="#r-dnp" fill="#f0aeac" stroke="#f0aeac" stroke-width="0.6"/>
<use href="#r-zap" fill="#f56e6e" stroke="#f56e6e" stroke-width="0.6"/>
<use href="#r-don" fill="#888888" stroke="#888888" stroke-width="0.6"/>
<use href="#r-luh" fill="#888888" stroke="#888888" stroke-width="0.6"/>
<use href="#r-crim" fill="#888888"/>
<use href="#brd" fill="none" stroke="#fff" stroke-opacity="0.72" stroke-width="0.9" stroke-linejoin="round"/>
<path d="M541.8,1090 Q549,1108 567.4,1126.7" fill="none" stroke="#b9c9a8" stroke-width="0.7"/>
<path d="M562.3,1066.3 L556,1073.5 L550,1079.3" fill="none" stroke="#f56e6e" stroke-opacity="0.75" stroke-width="1.1" stroke-linecap="round"/>
</g>
<g transform="translate(-0.2,1844)">
<text x="112.0" y="760.0" font-size="17.6" fill="#000" stroke="#000" stroke-width="0.6" textLength="34.0" lengthAdjust="spacingAndGlyphs">Луцьк</text>
<rect x="109.4" y="764.2" width="39.5" height="18.1" fill="#000" fill-opacity="0.5"/>
<text x="115.1" y="780.1" font-size="19" font-weight="bold" fill="#fff" textLength="28.1" lengthAdjust="spacingAndGlyphs">15,3</text>
<text x="191.4" y="749.3" font-size="17.6" fill="#000" stroke="#000" stroke-width="0.6" textLength="28.8" lengthAdjust="spacingAndGlyphs">Рівне</text>
<rect x="186.5" y="753.3" width="39.5" height="18.1" fill="#000" fill-opacity="0.5"/>
<text x="192.2" y="769.2" font-size="19" font-weight="bold" fill="#fff" textLength="28.1" lengthAdjust="spacingAndGlyphs">16,7</text>
<text x="250.0" y="792.7" font-size="17.6" fill="#000" stroke="#000" stroke-width="0.6" textLength="50.2" lengthAdjust="spacingAndGlyphs">Житомир</text>
<rect x="255.4" y="796.8" width="39.5" height="18.1" fill="#000" fill-opacity="0.5"/>
<text x="261.1" y="812.7" font-size="19" font-weight="bold" fill="#fff" textLength="28.1" lengthAdjust="spacingAndGlyphs">13,9</text>
<text x="348.7" y="807.4" font-size="17.6" fill="#000" stroke="#000" stroke-width="0.6" textLength="22.7" lengthAdjust="spacingAndGlyphs">Київ</text>
<rect x="340.5" y="811.5" width="39.5" height="18.1" fill="#000" fill-opacity="0.5"/>
<text x="346.2" y="827.4" font-size="19" font-weight="bold" fill="#fff" textLength="28.1" lengthAdjust="spacingAndGlyphs">29,1</text>
<text x="395.4" y="752.7" font-size="17.6" fill="#000" stroke="#000" stroke-width="0.6" textLength="44.6" lengthAdjust="spacingAndGlyphs">Чернігів</text>
<rect x="398.0" y="757.5" width="39.5" height="18.1" fill="#000" fill-opacity="0.5"/>
<text x="409.7" y="773.4" font-size="19" font-weight="bold" fill="#fff" textLength="16.1" lengthAdjust="spacingAndGlyphs">13</text>
<text x="516.5" y="776.8" font-size="17.6" fill="#000" stroke="#000" stroke-width="0.6" textLength="28.9" lengthAdjust="spacingAndGlyphs">Суми</text>
<rect x="511.2" y="781.4" width="39.5" height="18.1" fill="#000" fill-opacity="0.5"/>
<text x="522.9" y="797.3" font-size="19" font-weight="bold" fill="#fff" textLength="16.1" lengthAdjust="spacingAndGlyphs">10</text>
<text x="79.0" y="842.0" font-size="17.6" fill="#000" stroke="#000" stroke-width="0.6" textLength="29.5" lengthAdjust="spacingAndGlyphs">Львів</text>
<rect x="74.0" y="846.5" width="39.5" height="18.1" fill="#000" fill-opacity="0.5"/>
<text x="79.7" y="862.4" font-size="19" font-weight="bold" fill="#fff" textLength="28.1" lengthAdjust="spacingAndGlyphs">22,7</text>
<text x="139.2" y="848.0" font-size="17.6" fill="#000" stroke="#000" stroke-width="0.6" textLength="54.2" lengthAdjust="spacingAndGlyphs">Тернопіль</text>
<rect x="145.9" y="854.7" width="39.5" height="18.1" fill="#000" fill-opacity="0.5"/>
<text x="151.6" y="870.6" font-size="19" font-weight="bold" fill="#fff" textLength="28.1" lengthAdjust="spacingAndGlyphs">16,5</text>
<text x="174.0" y="890.7" font-size="17.6" fill="#000" stroke="#000" stroke-width="0.6" textLength="81.4" lengthAdjust="spacingAndGlyphs">Хмельницький</text>
<rect x="195.9" y="895.2" width="39.5" height="18.1" fill="#000" fill-opacity="0.5"/>
<text x="207.6" y="911.1" font-size="19" font-weight="bold" fill="#fff" textLength="16.1" lengthAdjust="spacingAndGlyphs">15</text>
<text x="268.0" y="909.6" font-size="17.6" fill="#000" stroke="#000" stroke-width="0.6" textLength="44.0" lengthAdjust="spacingAndGlyphs">Вінниця</text>
<rect x="270.7" y="914.0" width="39.5" height="18.1" fill="#000" fill-opacity="0.5"/>
<text x="282.4" y="929.9" font-size="19" font-weight="bold" fill="#fff" textLength="16.1" lengthAdjust="spacingAndGlyphs">15</text>
<text x="395.5" y="871.4" font-size="17.6" fill="#000" stroke="#000" stroke-width="0.6" textLength="45.3" lengthAdjust="spacingAndGlyphs">Черкаси</text>
<rect x="398.1" y="876.0" width="39.5" height="18.1" fill="#000" fill-opacity="0.5"/>
<text x="409.8" y="891.9" font-size="19" font-weight="bold" fill="#fff" textLength="16.1" lengthAdjust="spacingAndGlyphs">12</text>
<text x="474.7" y="854.0" font-size="17.6" fill="#000" stroke="#000" stroke-width="0.6" textLength="44.1" lengthAdjust="spacingAndGlyphs">Полтава</text>
<rect x="476.9" y="858.9" width="39.5" height="18.1" fill="#000" fill-opacity="0.5"/>
<text x="488.6" y="874.8" font-size="19" font-weight="bold" fill="#fff" textLength="16.1" lengthAdjust="spacingAndGlyphs">14</text>
<text x="594.2" y="850.6" font-size="17.6" fill="#000" stroke="#000" stroke-width="0.6" textLength="35.2" lengthAdjust="spacingAndGlyphs">Харків</text>
<rect x="592.6" y="854.6" width="39.5" height="18.1" fill="#000" fill-opacity="0.5"/>
<text x="598.3" y="870.5" font-size="19" font-weight="bold" fill="#fff" textLength="28.1" lengthAdjust="spacingAndGlyphs">15,7</text>
<text x="26.5" y="924.2" font-size="17.6" fill="#000" stroke="#000" stroke-width="0.6" textLength="46.7" lengthAdjust="spacingAndGlyphs">Ужгород</text>
<rect x="30.8" y="928.7" width="39.5" height="18.1" fill="#000" fill-opacity="0.5"/>
<text x="36.5" y="944.6" font-size="19" font-weight="bold" fill="#fff" textLength="28.1" lengthAdjust="spacingAndGlyphs">15,5</text>
<text x="82.6" y="925.3" font-size="17.6" fill="#000" stroke="#000" stroke-width="0.6" textLength="98.1" lengthAdjust="spacingAndGlyphs">Івано-Франківськ</text>
<rect x="112.2" y="930.0" width="39.5" height="18.1" fill="#000" fill-opacity="0.5"/>
<text x="117.9" y="945.9" font-size="19" font-weight="bold" fill="#fff" textLength="28.1" lengthAdjust="spacingAndGlyphs">12.4</text>
<text x="172.2" y="944.9" font-size="17.6" fill="#000" stroke="#000" stroke-width="0.6" textLength="45.3" lengthAdjust="spacingAndGlyphs">Чернівці</text>
<rect x="175.4" y="949.4" width="39.5" height="18.1" fill="#000" fill-opacity="0.5"/>
<text x="187.1" y="965.3" font-size="19" font-weight="bold" fill="#fff" textLength="16.1" lengthAdjust="spacingAndGlyphs">12</text>
<text x="389.8" y="928.4" font-size="17.6" fill="#000" stroke="#000" stroke-width="0.6" textLength="86.2" lengthAdjust="spacingAndGlyphs">Кропивницький</text>
<rect x="414.0" y="932.7" width="39.5" height="18.1" fill="#000" fill-opacity="0.5"/>
<text x="425.7" y="948.6" font-size="19" font-weight="bold" fill="#fff" textLength="16.1" lengthAdjust="spacingAndGlyphs">18</text>
<text x="529.3" y="924.0" font-size="17.6" fill="#000" stroke="#000" stroke-width="0.6" textLength="37.4" lengthAdjust="spacingAndGlyphs">Дніпро</text>
<rect x="528.0" y="928.7" width="39.5" height="18.1" fill="#000" fill-opacity="0.5"/>
<text x="539.7" y="944.6" font-size="19" font-weight="bold" fill="#fff" textLength="16.1" lengthAdjust="spacingAndGlyphs">13</text>
<text x="553.2" y="998.7" font-size="17.6" fill="#000" stroke="#000" stroke-width="0.6" textLength="59.6" lengthAdjust="spacingAndGlyphs">Запоріжжя</text>
<rect x="562.6" y="1003.2" width="39.5" height="18.1" fill="#000" fill-opacity="0.5"/>
<text x="574.3" y="1019.1" font-size="19" font-weight="bold" fill="#fff" textLength="16.1" lengthAdjust="spacingAndGlyphs">22</text>
<text x="341.9" y="1015.4" font-size="17.6" fill="#000" stroke="#000" stroke-width="0.6" textLength="32.1" lengthAdjust="spacingAndGlyphs">Одеса</text>
<rect x="338.7" y="1020.7" width="39.5" height="18.1" fill="#000" fill-opacity="0.5"/>
<text x="350.4" y="1036.6" font-size="19" font-weight="bold" fill="#fff" textLength="16.1" lengthAdjust="spacingAndGlyphs">14</text>
<text x="402.2" y="996.6" font-size="17.6" fill="#000" stroke="#000" stroke-width="0.6" textLength="52.2" lengthAdjust="spacingAndGlyphs">Миколаїв</text>
<rect x="408.5" y="1000.9" width="39.5" height="18.1" fill="#000" fill-opacity="0.5"/>
<text x="420.2" y="1016.8" font-size="19" font-weight="bold" fill="#fff" textLength="16.1" lengthAdjust="spacingAndGlyphs">16</text>
<text x="480.6" y="1034.0" font-size="17.6" fill="#000" stroke="#000" stroke-width="0.6" textLength="38.7" lengthAdjust="spacingAndGlyphs">Херсон</text>
<rect x="480.0" y="1038.7" width="39.5" height="18.1" fill="#000" fill-opacity="0.5"/>
<text x="492.1" y="1054.6" font-size="19" font-weight="bold" fill="#fff" textLength="15.3" lengthAdjust="spacingAndGlyphs">11</text>
</g>
<text x="65.0" y="2871.0" font-size="16" fill="#111" stroke="#111" stroke-width="0.54" textLength="208.0" lengthAdjust="spacingAndGlyphs">кількість злочинів на 1000 населення</text>
<rect x="41.4" y="2883.8" width="16.6" height="16.6" fill="#fad4d1"/>
<text x="65.8" y="2897.9" font-size="16.6" fill="#111" stroke="#111" stroke-width="0.56" textLength="18.0" lengthAdjust="spacingAndGlyphs">&lt;12</text>
<rect x="41.4" y="2908.3" width="16.6" height="16.6" fill="#f0aeac"/>
<text x="65.8" y="2922.4" font-size="16.6" fill="#111" stroke="#111" stroke-width="0.56" textLength="31.4" lengthAdjust="spacingAndGlyphs">12-15</text>
<rect x="41.4" y="2933.7" width="16.6" height="16.6" fill="#f3908e"/>
<text x="65.8" y="2947.8" font-size="16.6" fill="#111" stroke="#111" stroke-width="0.56" textLength="31.4" lengthAdjust="spacingAndGlyphs">16-19</text>
<rect x="41.4" y="2959.6" width="16.6" height="16.6" fill="#f56e6e"/>
<text x="65.8" y="2973.7" font-size="16.6" fill="#111" stroke="#111" stroke-width="0.56" textLength="32.4" lengthAdjust="spacingAndGlyphs">20-23</text>
<rect x="41.4" y="2986.0" width="16.6" height="16.6" fill="#f03e3e"/>
<text x="65.8" y="3000.1" font-size="16.6" fill="#111" stroke="#111" stroke-width="0.56" textLength="18.0" lengthAdjust="spacingAndGlyphs">&gt;23</text>
<rect x="0" y="3052.8" width="800" height="66" fill="#c5e2de"/>
<rect x="12" y="3065" width="44" height="44" fill="#b9588f"/>
<g transform="translate(12,3065) scale(1)"><polygon points="30.43,4.80 32.03,9.61 33.63,12.81 36.83,12.28 35.23,16.55 33.09,20.28 32.03,22.95 37.37,22.42 36.30,26.16 39.50,29.89 35.23,30.96 32.56,30.64 33.09,33.09 28.29,32.03 26.16,34.70 25.09,33.09 22.95,35.76 21.03,37.37 20.28,34.70 19.75,32.56 18.15,33.63 14.41,35.76 10.14,37.37 6.94,37.69 5.87,36.30 9.07,35.23 13.88,33.09 17.08,30.96 14.41,32.03 11.74,30.96 12.28,28.29 11.21,27.22 13.88,26.16 9.07,22.42 12.28,20.82 13.88,19.75 10.14,14.41 13.88,14.95 17.08,16.01 16.01,12.28 19.75,14.95 21.35,16.55 22.95,11.21 23.49,6.94 26.16,9.61 27.76,10.68" fill="#fff" stroke="#fff" stroke-width="0.5" stroke-linejoin="round"/><path d="M28.08,17.08 Q25.09,27.22 19.00,33.42" fill="none" stroke="#b9588f" stroke-width="0.95" stroke-linecap="round"/></g>
<text x="291.2" y="3097.3" font-size="33.3" fill="#111" stroke="#111" stroke-width="1.13" textLength="239.8" lengthAdjust="spacingAndGlyphs">Забруднення повітря</text>
<g transform="translate(1.91,2460.00) scale(1.0019,1)">
<use href="#r-zak" fill="#dfaec6" stroke="#dfaec6" stroke-width="0.6"/>
<use href="#r-lviv" fill="#b9588f" stroke="#b9588f" stroke-width="0.6"/>
<use href="#r-volyn" fill="#dfaec6" stroke="#dfaec6" stroke-width="0.6"/>
<use href="#r-rivne" fill="#dfaec6" stroke="#dfaec6" stroke-width="0.6"/>
<use href="#r-tern" fill="#dfaec6" stroke="#dfaec6" stroke-width="0.6"/>
<use href="#r-if" fill="#7a2466" stroke="#7a2466" stroke-width="0.6"/>
<use href="#r-chrv" fill="#dfaec6" stroke="#dfaec6" stroke-width="0.6"/>
<use href="#r-khm" fill="#dfaec6" stroke="#dfaec6" stroke-width="0.6"/>
<use href="#r-zhy" fill="#dfaec6" stroke="#dfaec6" stroke-width="0.6"/>
<use href="#r-vin" fill="#7a2466" stroke="#7a2466" stroke-width="0.6"/>
<use href="#r-kyiv" fill="#dfaec6" stroke="#dfaec6" stroke-width="0.6"/>
<use href="#r-chrh" fill="#c47ea4" stroke="#c47ea4" stroke-width="0.6"/>
<use href="#r-sumy" fill="#dfaec6" stroke="#dfaec6" stroke-width="0.6"/>
<use href="#r-polt" fill="#c47ea4" stroke="#c47ea4" stroke-width="0.6"/>
<use href="#r-chrk" fill="#b9588f" stroke="#b9588f" stroke-width="0.6"/>
<use href="#r-kir" fill="#dfaec6" stroke="#dfaec6" stroke-width="0.6"/>
<use href="#r-ode" fill="#dfaec6" stroke="#dfaec6" stroke-width="0.6"/>
<use href="#r-myk" fill="#dfaec6" stroke="#dfaec6" stroke-width="0.6"/>
<use href="#r-khe" fill="#dfaec6" stroke="#dfaec6" stroke-width="0.6"/>
<use href="#r-khar" fill="#c47ea4" stroke="#c47ea4" stroke-width="0.6"/>
<use href="#r-dnp" fill="#7a2466" stroke="#7a2466" stroke-width="0.6"/>
<use href="#r-zap" fill="#7a2466" stroke="#7a2466" stroke-width="0.6"/>
<use href="#r-don" fill="#888888" stroke="#888888" stroke-width="0.6"/>
<use href="#r-luh" fill="#888888" stroke="#888888" stroke-width="0.6"/>
<use href="#r-crim" fill="#888888"/>
<use href="#brd" fill="none" stroke="#fff" stroke-opacity="0.72" stroke-width="0.9" stroke-linejoin="round"/>
<path d="M541.8,1090 Q549,1108 567.4,1126.7" fill="none" stroke="#b9c9a8" stroke-width="0.7"/>
<path d="M562.3,1066.3 L556,1073.5 L550,1079.3" fill="none" stroke="#7a2466" stroke-opacity="0.75" stroke-width="1.1" stroke-linecap="round"/>
</g>
<g transform="translate(0,2460)">
<text x="112.0" y="760.0" font-size="17.6" fill="#000" stroke="#000" stroke-width="0.6" textLength="34.0" lengthAdjust="spacingAndGlyphs">Луцьк</text>
<rect x="109.4" y="764.2" width="39.5" height="18.1" fill="#000" fill-opacity="0.5"/>
<text x="125.1" y="780.1" font-size="19" font-weight="bold" fill="#fff" textLength="8.0" lengthAdjust="spacingAndGlyphs">5</text>
<text x="191.4" y="749.3" font-size="17.6" fill="#000" stroke="#000" stroke-width="0.6" textLength="28.8" lengthAdjust="spacingAndGlyphs">Рівне</text>
<rect x="186.5" y="753.3" width="39.5" height="18.1" fill="#000" fill-opacity="0.5"/>
<text x="202.2" y="769.2" font-size="19" font-weight="bold" fill="#fff" textLength="8.0" lengthAdjust="spacingAndGlyphs">9</text>
<text x="250.0" y="792.7" font-size="17.6" fill="#000" stroke="#000" stroke-width="0.6" textLength="50.2" lengthAdjust="spacingAndGlyphs">Житомир</text>
<rect x="255.4" y="796.8" width="39.5" height="18.1" fill="#000" fill-opacity="0.5"/>
<text x="271.1" y="812.7" font-size="19" font-weight="bold" fill="#fff" textLength="8.0" lengthAdjust="spacingAndGlyphs">7</text>
<text x="348.7" y="807.4" font-size="17.6" fill="#000" stroke="#000" stroke-width="0.6" textLength="22.7" lengthAdjust="spacingAndGlyphs">Київ</text>
<rect x="340.5" y="811.5" width="39.5" height="18.1" fill="#000" fill-opacity="0.5"/>
<text x="356.2" y="827.4" font-size="19" font-weight="bold" fill="#fff" textLength="8.0" lengthAdjust="spacingAndGlyphs">9</text>
<text x="395.4" y="752.7" font-size="17.6" fill="#000" stroke="#000" stroke-width="0.6" textLength="44.6" lengthAdjust="spacingAndGlyphs">Чернігів</text>
<rect x="398.0" y="757.5" width="39.5" height="18.1" fill="#000" fill-opacity="0.5"/>
<text x="409.7" y="773.4" font-size="19" font-weight="bold" fill="#fff" textLength="16.1" lengthAdjust="spacingAndGlyphs">32</text>
<text x="516.5" y="776.8" font-size="17.6" fill="#000" stroke="#000" stroke-width="0.6" textLength="28.9" lengthAdjust="spacingAndGlyphs">Суми</text>
<rect x="511.2" y="781.4" width="39.5" height="18.1" fill="#000" fill-opacity="0.5"/>
<text x="522.9" y="797.3" font-size="19" font-weight="bold" fill="#fff" textLength="16.1" lengthAdjust="spacingAndGlyphs">16</text>
<text x="79.0" y="842.0" font-size="17.6" fill="#000" stroke="#000" stroke-width="0.6" textLength="29.5" lengthAdjust="spacingAndGlyphs">Львів</text>
<rect x="74.0" y="846.5" width="39.5" height="18.1" fill="#000" fill-opacity="0.5"/>
<text x="85.7" y="862.4" font-size="19" font-weight="bold" fill="#fff" textLength="16.1" lengthAdjust="spacingAndGlyphs">41</text>
<text x="139.2" y="848.0" font-size="17.6" fill="#000" stroke="#000" stroke-width="0.6" textLength="54.2" lengthAdjust="spacingAndGlyphs">Тернопіль</text>
<rect x="145.9" y="854.7" width="39.5" height="18.1" fill="#000" fill-opacity="0.5"/>
<text x="161.6" y="870.6" font-size="19" font-weight="bold" fill="#fff" textLength="8.0" lengthAdjust="spacingAndGlyphs">8</text>
<text x="174.0" y="890.7" font-size="17.6" fill="#000" stroke="#000" stroke-width="0.6" textLength="81.4" lengthAdjust="spacingAndGlyphs">Хмельницький</text>
<rect x="195.9" y="895.2" width="39.5" height="18.1" fill="#000" fill-opacity="0.5"/>
<text x="207.6" y="911.1" font-size="19" font-weight="bold" fill="#fff" textLength="16.1" lengthAdjust="spacingAndGlyphs">15</text>
<text x="268.0" y="909.6" font-size="17.6" fill="#000" stroke="#000" stroke-width="0.6" textLength="44.0" lengthAdjust="spacingAndGlyphs">Вінниця</text>
<rect x="270.7" y="914.0" width="39.5" height="18.1" fill="#000" fill-opacity="0.5"/>
<text x="282.4" y="929.9" font-size="19" font-weight="bold" fill="#fff" textLength="16.1" lengthAdjust="spacingAndGlyphs">84</text>
<text x="395.5" y="871.4" font-size="17.6" fill="#000" stroke="#000" stroke-width="0.6" textLength="45.3" lengthAdjust="spacingAndGlyphs">Черкаси</text>
<rect x="398.1" y="876.0" width="39.5" height="18.1" fill="#000" fill-opacity="0.5"/>
<text x="409.8" y="891.9" font-size="19" font-weight="bold" fill="#fff" textLength="16.1" lengthAdjust="spacingAndGlyphs">46</text>
<text x="474.7" y="854.0" font-size="17.6" fill="#000" stroke="#000" stroke-width="0.6" textLength="44.1" lengthAdjust="spacingAndGlyphs">Полтава</text>
<rect x="476.9" y="858.9" width="39.5" height="18.1" fill="#000" fill-opacity="0.5"/>
<text x="488.6" y="874.8" font-size="19" font-weight="bold" fill="#fff" textLength="16.1" lengthAdjust="spacingAndGlyphs">39</text>
<text x="594.2" y="850.6" font-size="17.6" fill="#000" stroke="#000" stroke-width="0.6" textLength="35.2" lengthAdjust="spacingAndGlyphs">Харків</text>
<rect x="592.6" y="854.6" width="39.5" height="18.1" fill="#000" fill-opacity="0.5"/>
<text x="604.3" y="870.5" font-size="19" font-weight="bold" fill="#fff" textLength="16.1" lengthAdjust="spacingAndGlyphs">20</text>
<text x="26.5" y="924.2" font-size="17.6" fill="#000" stroke="#000" stroke-width="0.6" textLength="46.7" lengthAdjust="spacingAndGlyphs">Ужгород</text>
<rect x="30.8" y="928.7" width="39.5" height="18.1" fill="#000" fill-opacity="0.5"/>
<text x="46.5" y="944.6" font-size="19" font-weight="bold" fill="#fff" textLength="8.0" lengthAdjust="spacingAndGlyphs">3</text>
<text x="82.6" y="925.3" font-size="17.6" fill="#000" stroke="#000" stroke-width="0.6" textLength="98.1" lengthAdjust="spacingAndGlyphs">Івано-Франківськ</text>
<rect x="112.2" y="930.0" width="39.5" height="18.1" fill="#000" fill-opacity="0.5"/>
<text x="119.9" y="945.9" font-size="19" font-weight="bold" fill="#fff" textLength="24.1" lengthAdjust="spacingAndGlyphs">162</text>
<text x="172.2" y="944.9" font-size="17.6" fill="#000" stroke="#000" stroke-width="0.6" textLength="45.3" lengthAdjust="spacingAndGlyphs">Чернівці</text>
<rect x="175.4" y="949.4" width="39.5" height="18.1" fill="#000" fill-opacity="0.5"/>
<text x="191.1" y="965.3" font-size="19" font-weight="bold" fill="#fff" textLength="8.0" lengthAdjust="spacingAndGlyphs">4</text>
<text x="389.8" y="928.4" font-size="17.6" fill="#000" stroke="#000" stroke-width="0.6" textLength="86.2" lengthAdjust="spacingAndGlyphs">Кропивницький</text>
<rect x="414.0" y="932.7" width="39.5" height="18.1" fill="#000" fill-opacity="0.5"/>
<text x="425.7" y="948.6" font-size="19" font-weight="bold" fill="#fff" textLength="16.1" lengthAdjust="spacingAndGlyphs">15</text>
<text x="529.3" y="924.0" font-size="17.6" fill="#000" stroke="#000" stroke-width="0.6" textLength="37.4" lengthAdjust="spacingAndGlyphs">Дніпро</text>
<rect x="528.0" y="928.7" width="39.5" height="18.1" fill="#000" fill-opacity="0.5"/>
<text x="535.7" y="944.6" font-size="19" font-weight="bold" fill="#fff" textLength="24.1" lengthAdjust="spacingAndGlyphs">223</text>
<text x="553.2" y="998.7" font-size="17.6" fill="#000" stroke="#000" stroke-width="0.6" textLength="59.6" lengthAdjust="spacingAndGlyphs">Запоріжжя</text>
<rect x="562.6" y="1003.2" width="39.5" height="18.1" fill="#000" fill-opacity="0.5"/>
<text x="571.1" y="1019.1" font-size="19" font-weight="bold" fill="#fff" textLength="22.5" lengthAdjust="spacingAndGlyphs">111</text>
<text x="341.9" y="1015.4" font-size="17.6" fill="#000" stroke="#000" stroke-width="0.6" textLength="32.1" lengthAdjust="spacingAndGlyphs">Одеса</text>
<rect x="338.7" y="1020.7" width="39.5" height="18.1" fill="#000" fill-opacity="0.5"/>
<text x="350.8" y="1036.6" font-size="19" font-weight="bold" fill="#fff" textLength="15.3" lengthAdjust="spacingAndGlyphs">11</text>
<text x="402.2" y="996.6" font-size="17.6" fill="#000" stroke="#000" stroke-width="0.6" textLength="52.2" lengthAdjust="spacingAndGlyphs">Миколаїв</text>
<rect x="408.5" y="1000.9" width="39.5" height="18.1" fill="#000" fill-opacity="0.5"/>
<text x="420.2" y="1016.8" font-size="19" font-weight="bold" fill="#fff" textLength="16.1" lengthAdjust="spacingAndGlyphs">14</text>
<text x="480.6" y="1034.0" font-size="17.6" fill="#000" stroke="#000" stroke-width="0.6" textLength="38.7" lengthAdjust="spacingAndGlyphs">Херсон</text>
<rect x="480.0" y="1038.7" width="39.5" height="18.1" fill="#000" fill-opacity="0.5"/>
<text x="495.7" y="1054.6" font-size="19" font-weight="bold" fill="#fff" textLength="8.0" lengthAdjust="spacingAndGlyphs">8</text>
</g>
<text x="64.8" y="3487.4" font-size="16" fill="#111" stroke="#111" stroke-width="0.54" textLength="124.5" lengthAdjust="spacingAndGlyphs">кількість викидів (кг)</text>
<rect x="41.4" y="3499.8" width="16.6" height="16.6" fill="#dfaec6"/>
<text x="65.8" y="3514.4" font-size="16.6" fill="#111" stroke="#111" stroke-width="0.56" textLength="25.0" lengthAdjust="spacingAndGlyphs">1-19</text>
<rect x="41.4" y="3524.7" width="16.6" height="16.6" fill="#c47ea4"/>
<text x="65.8" y="3539.3" font-size="16.6" fill="#111" stroke="#111" stroke-width="0.56" textLength="31.4" lengthAdjust="spacingAndGlyphs">20-39</text>
<rect x="41.4" y="3549.7" width="16.6" height="16.6" fill="#b9588f"/>
<text x="65.8" y="3564.3" font-size="16.6" fill="#111" stroke="#111" stroke-width="0.56" textLength="31.4" lengthAdjust="spacingAndGlyphs">40-59</text>
<rect x="41.4" y="3576.6" width="16.6" height="16.6" fill="#b02a7c"/>
<text x="65.8" y="3591.2" font-size="16.6" fill="#111" stroke="#111" stroke-width="0.56" textLength="31.4" lengthAdjust="spacingAndGlyphs">60-79</text>
<rect x="41.4" y="3603.0" width="16.6" height="16.6" fill="#7a2466"/>
<text x="65.8" y="3617.6" font-size="16.6" fill="#111" stroke="#111" stroke-width="0.56" textLength="18.0" lengthAdjust="spacingAndGlyphs">&gt;80</text>
<text x="696.0" y="3658.3" font-size="16" fill="#8a8a8a" stroke="#8a8a8a" stroke-width="0.54" textLength="96.0" lengthAdjust="spacingAndGlyphs">за даними Фокус</text>
</svg>
</body></html>
